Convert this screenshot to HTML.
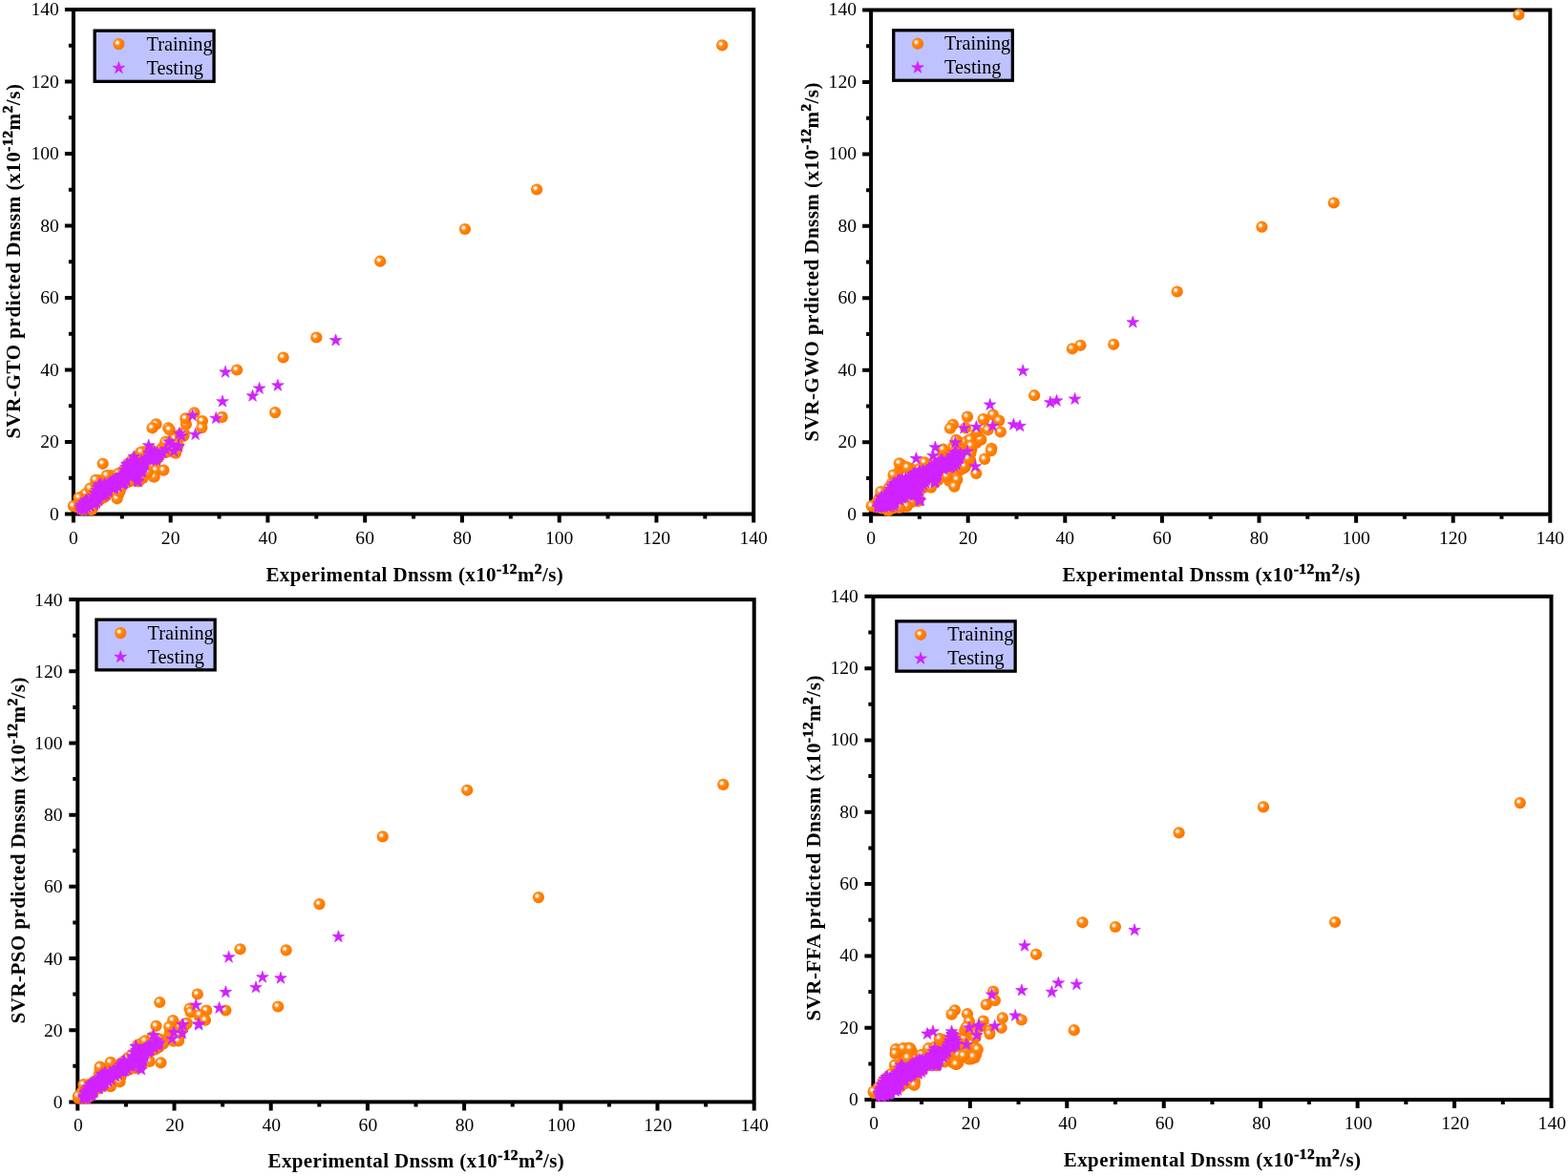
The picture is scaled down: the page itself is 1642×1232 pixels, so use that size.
<!DOCTYPE html>
<html lang="en"><head><meta charset="utf-8"><title>SVR predicted vs experimental Dnssm</title>
<style>html,body{margin:0;padding:0;background:#fff}body{width:1642px;height:1232px;overflow:hidden}svg{display:block;filter:blur(0.3px)}text{font-family:"Liberation Serif",serif;fill:#000}.tk{font-size:19.6px}.tt{font-size:21px;font-weight:bold}.lg{font-size:20.3px}</style></head><body>
<svg width="1642" height="1232" viewBox="0 0 1642 1232">
<defs><radialGradient id="g" cx="0.377" cy="0.38" r="0.68" fx="0.377" fy="0.38"><stop offset="0" stop-color="#fff"/><stop offset="0.10" stop-color="#fff"/><stop offset="0.22" stop-color="#ffc792"/><stop offset="0.34" stop-color="#ff8c1a"/><stop offset="0.6" stop-color="#ff8000"/><stop offset="1" stop-color="#fa7000"/></radialGradient><path id="s" d="M0.00,-6.60L1.50,-2.06L6.28,-2.04L2.43,0.79L3.88,5.34L0.00,2.55L-3.88,5.34L-2.43,0.79L-6.28,-2.04L-1.50,-2.06Z" fill="#d022ff" stroke="#d022ff" stroke-width="0.7" stroke-linejoin="round"/></defs>
<rect width="1642" height="1232" fill="#fff"/>
<g>
<rect x="76.90" y="10.00" width="712.30" height="528.50" fill="none" stroke="#000" stroke-width="4.00"/>
<path d="M76.90,540.00v7.50M75.40,538.50h-7.50M127.78,540.00v3.50M75.40,500.75h-3.50M178.66,540.00v7.50M75.40,463.00h-7.50M229.54,540.00v3.50M75.40,425.25h-3.50M280.41,540.00v7.50M75.40,387.50h-7.50M331.29,540.00v3.50M75.40,349.75h-3.50M382.17,540.00v7.50M75.40,312.00h-7.50M433.05,540.00v3.50M75.40,274.25h-3.50M483.93,540.00v7.50M75.40,236.50h-7.50M534.81,540.00v3.50M75.40,198.75h-3.50M585.69,540.00v7.50M75.40,161.00h-7.50M636.56,540.00v3.50M75.40,123.25h-3.50M687.44,540.00v7.50M75.40,85.50h-7.50M738.32,540.00v3.50M75.40,47.75h-3.50M789.20,540.00v7.50M75.40,10.00h-7.50" stroke="#000" stroke-width="4.00" fill="none"/>
<text class="tk" x="76.90" y="569.70" text-anchor="middle">0</text>
<text class="tk" x="61.80" y="544.70" text-anchor="end">0</text>
<text class="tk" x="178.66" y="569.70" text-anchor="middle">20</text>
<text class="tk" x="61.80" y="469.20" text-anchor="end">20</text>
<text class="tk" x="280.41" y="569.70" text-anchor="middle">40</text>
<text class="tk" x="61.80" y="393.70" text-anchor="end">40</text>
<text class="tk" x="382.17" y="569.70" text-anchor="middle">60</text>
<text class="tk" x="61.80" y="318.20" text-anchor="end">60</text>
<text class="tk" x="483.93" y="569.70" text-anchor="middle">80</text>
<text class="tk" x="61.80" y="242.70" text-anchor="end">80</text>
<text class="tk" x="585.69" y="569.70" text-anchor="middle">100</text>
<text class="tk" x="61.80" y="167.20" text-anchor="end">100</text>
<text class="tk" x="687.44" y="569.70" text-anchor="middle">120</text>
<text class="tk" x="61.80" y="91.70" text-anchor="end">120</text>
<text class="tk" x="789.20" y="569.70" text-anchor="middle">140</text>
<text class="tk" x="61.80" y="16.20" text-anchor="end">140</text>
<text class="tt" x="278.40" y="608.70" textLength="311.40" lengthAdjust="spacing">Experimental Dnssm (x10<tspan dy="-8" style="font-size:15.5px;font-weight:bold;stroke:#000;stroke-width:0.55px">-12</tspan><tspan dy="8">m</tspan><tspan dy="-8" style="font-size:15.5px;font-weight:bold;stroke:#000;stroke-width:0.55px">2</tspan><tspan dy="8">/s)</tspan></text>
<text class="tt" transform="translate(20.90,459.60) rotate(-90)" x="0" y="0" textLength="371.50" lengthAdjust="spacing">SVR-GTO prdicted Dnssm (x10<tspan dy="-8" style="font-size:15.5px;font-weight:bold;stroke:#000;stroke-width:0.55px">-12</tspan><tspan dy="8">m</tspan><tspan dy="-8" style="font-size:15.5px;font-weight:bold;stroke:#000;stroke-width:0.55px">2</tspan><tspan dy="8">/s)</tspan></text>
<g fill="url(#g)"><circle cx="120.3" cy="502.4" r="6.1"/><circle cx="117.6" cy="514.7" r="6.1"/><circle cx="150.4" cy="486.4" r="6.1"/><circle cx="103.9" cy="510.9" r="6.1"/><circle cx="157.8" cy="489.2" r="6.1"/><circle cx="81.7" cy="527.4" r="6.1"/><circle cx="87.1" cy="519.6" r="6.1"/><circle cx="109.7" cy="507.4" r="6.1"/><circle cx="107" cy="508.5" r="6.1"/><circle cx="130.7" cy="498.8" r="6.1"/><circle cx="94.6" cy="523.8" r="6.1"/><circle cx="147.1" cy="482.6" r="6.1"/><circle cx="135.4" cy="495.9" r="6.1"/><circle cx="88.6" cy="531" r="6.1"/><circle cx="116.4" cy="512.4" r="6.1"/><circle cx="166.9" cy="476.6" r="6.1"/><circle cx="144.6" cy="489" r="6.1"/><circle cx="175.6" cy="472.3" r="6.1"/><circle cx="92.1" cy="522.7" r="6.1"/><circle cx="158.7" cy="474.8" r="6.1"/><circle cx="136.1" cy="498.9" r="6.1"/><circle cx="141.1" cy="480.4" r="6.1"/><circle cx="162.2" cy="481.2" r="6.1"/><circle cx="139" cy="490.9" r="6.1"/><circle cx="185.8" cy="467.6" r="6.1"/><circle cx="120.7" cy="499.4" r="6.1"/><circle cx="94.9" cy="528.3" r="6.1"/><circle cx="161.7" cy="484.9" r="6.1"/><circle cx="159.6" cy="480.6" r="6.1"/><circle cx="97.4" cy="511.4" r="6.1"/><circle cx="183.1" cy="463.9" r="6.1"/><circle cx="114.1" cy="509.7" r="6.1"/><circle cx="182.2" cy="469" r="6.1"/><circle cx="119.3" cy="510.7" r="6.1"/><circle cx="154.4" cy="488.4" r="6.1"/><circle cx="142" cy="496.9" r="6.1"/><circle cx="124" cy="510.9" r="6.1"/><circle cx="108.4" cy="520.5" r="6.1"/><circle cx="119.3" cy="504.3" r="6.1"/><circle cx="150.2" cy="474.4" r="6.1"/><circle cx="144.3" cy="479.7" r="6.1"/><circle cx="100.2" cy="518.6" r="6.1"/><circle cx="99.3" cy="512.2" r="6.1"/><circle cx="160.7" cy="498" r="6.1"/><circle cx="101.5" cy="519.6" r="6.1"/><circle cx="119.1" cy="500.3" r="6.1"/><circle cx="153.9" cy="488.8" r="6.1"/><circle cx="183.9" cy="471" r="6.1"/><circle cx="137.7" cy="503.3" r="6.1"/><circle cx="125.8" cy="498" r="6.1"/><circle cx="85.3" cy="527" r="6.1"/><circle cx="144" cy="499.6" r="6.1"/><circle cx="98" cy="511.5" r="6.1"/><circle cx="106" cy="511.9" r="6.1"/><circle cx="163.9" cy="476.2" r="6.1"/><circle cx="107.8" cy="506.8" r="6.1"/><circle cx="154.1" cy="474.3" r="6.1"/><circle cx="143.3" cy="485.5" r="6.1"/><circle cx="91.8" cy="527.3" r="6.1"/><circle cx="136.3" cy="500.4" r="6.1"/><circle cx="110.6" cy="511.6" r="6.1"/><circle cx="116.4" cy="507.4" r="6.1"/><circle cx="150.6" cy="494.5" r="6.1"/><circle cx="154.6" cy="481.4" r="6.1"/><circle cx="139.6" cy="486.9" r="6.1"/><circle cx="128.5" cy="493.7" r="6.1"/><circle cx="152.7" cy="480" r="6.1"/><circle cx="149.4" cy="488.2" r="6.1"/><circle cx="132.7" cy="499.7" r="6.1"/><circle cx="122" cy="514.4" r="6.1"/><circle cx="115.9" cy="498.9" r="6.1"/><circle cx="123.7" cy="506.7" r="6.1"/><circle cx="147.6" cy="474.6" r="6.1"/><circle cx="90.6" cy="531.1" r="6.1"/><circle cx="110.4" cy="517.2" r="6.1"/><circle cx="120.7" cy="515.3" r="6.1"/><circle cx="108.6" cy="516.4" r="6.1"/><circle cx="115" cy="505" r="6.1"/><circle cx="161.7" cy="476.7" r="6.1"/><circle cx="160.2" cy="492.2" r="6.1"/><circle cx="143" cy="492.6" r="6.1"/><circle cx="104.4" cy="516.5" r="6.1"/><circle cx="159.1" cy="494.7" r="6.1"/><circle cx="95.7" cy="515.8" r="6.1"/><circle cx="178.4" cy="465" r="6.1"/><circle cx="126.1" cy="499.5" r="6.1"/><circle cx="148.7" cy="480.2" r="6.1"/><circle cx="104.7" cy="522.9" r="6.1"/><circle cx="126.7" cy="500.8" r="6.1"/><circle cx="95.5" cy="523.1" r="6.1"/><circle cx="178.5" cy="466.8" r="6.1"/><circle cx="134.1" cy="491.1" r="6.1"/><circle cx="184.2" cy="465.2" r="6.1"/><circle cx="103.4" cy="505.7" r="6.1"/><circle cx="128.3" cy="504.8" r="6.1"/><circle cx="151.8" cy="492" r="6.1"/><circle cx="96.8" cy="523.2" r="6.1"/><circle cx="142.9" cy="501.1" r="6.1"/><circle cx="143" cy="488" r="6.1"/><circle cx="141.2" cy="492.8" r="6.1"/><circle cx="112.2" cy="503.9" r="6.1"/><circle cx="159.5" cy="484.4" r="6.1"/><circle cx="159.4" cy="487.6" r="6.1"/><circle cx="150.2" cy="479.9" r="6.1"/><circle cx="83.1" cy="523.9" r="6.1"/><circle cx="85.7" cy="520.6" r="6.1"/><circle cx="90.1" cy="517.1" r="6.1"/><circle cx="95.3" cy="512.9" r="6.1"/><circle cx="101.2" cy="504" r="6.1"/><circle cx="101" cy="503.6" r="6.1"/><circle cx="103.6" cy="503.1" r="6.1"/><circle cx="112.4" cy="498.7" r="6.1"/><circle cx="112.6" cy="498.6" r="6.1"/><circle cx="116.3" cy="498.2" r="6.1"/><circle cx="124.3" cy="495.9" r="6.1"/><circle cx="129.2" cy="493" r="6.1"/><circle cx="134.2" cy="485.6" r="6.1"/><circle cx="138.1" cy="482.5" r="6.1"/><circle cx="142" cy="479.4" r="6.1"/><circle cx="146.7" cy="475" r="6.1"/><circle cx="147.5" cy="474.2" r="6.1"/><circle cx="151.4" cy="473.2" r="6.1"/><circle cx="157.7" cy="470.9" r="6.1"/><circle cx="169.7" cy="469.6" r="6.1"/><circle cx="172.2" cy="466.2" r="6.1"/><circle cx="174.7" cy="463.7" r="6.1"/><circle cx="176.7" cy="462.5" r="6.1"/><circle cx="183.4" cy="458.9" r="6.1"/><circle cx="188.4" cy="455.3" r="6.1"/><circle cx="190.9" cy="454" r="6.1"/><circle cx="191.1" cy="454.7" r="6.1"/><circle cx="190.4" cy="456.2" r="6.1"/><circle cx="186.4" cy="466.3" r="6.1"/><circle cx="186.3" cy="466.6" r="6.1"/><circle cx="184.9" cy="470.5" r="6.1"/><circle cx="183.1" cy="472.7" r="6.1"/><circle cx="181.1" cy="473.3" r="6.1"/><circle cx="173.6" cy="473.9" r="6.1"/><circle cx="166.1" cy="478.6" r="6.1"/><circle cx="163.7" cy="482" r="6.1"/><circle cx="161" cy="499.4" r="6.1"/><circle cx="160.9" cy="499.1" r="6.1"/><circle cx="160.6" cy="499" r="6.1"/><circle cx="149.5" cy="501" r="6.1"/><circle cx="145.3" cy="504.3" r="6.1"/><circle cx="144.4" cy="504.1" r="6.1"/><circle cx="135.1" cy="504.8" r="6.1"/><circle cx="126.4" cy="511.8" r="6.1"/><circle cx="123.7" cy="518.4" r="6.1"/><circle cx="111" cy="519.5" r="6.1"/><circle cx="108.3" cy="521.5" r="6.1"/><circle cx="102.7" cy="525.3" r="6.1"/><circle cx="97.4" cy="531.4" r="6.1"/><circle cx="95.6" cy="533.2" r="6.1"/><circle cx="94.2" cy="533.8" r="6.1"/><circle cx="90" cy="533.8" r="6.1"/><circle cx="85.9" cy="533.9" r="6.1"/><circle cx="80.6" cy="531.3" r="6.1"/><circle cx="756.2" cy="47.4" r="6.1"/><circle cx="562.1" cy="198.5" r="6.1"/><circle cx="486.9" cy="240" r="6.1"/><circle cx="398.1" cy="273.7" r="6.1"/><circle cx="331.3" cy="353.5" r="6.1"/><circle cx="296.6" cy="374.5" r="6.1"/><circle cx="248.1" cy="387.5" r="6.1"/><circle cx="288.1" cy="432.1" r="6.1"/><circle cx="232.6" cy="436.9" r="6.1"/><circle cx="203.4" cy="432.3" r="6.1"/><circle cx="211.9" cy="441.1" r="6.1"/><circle cx="211.3" cy="448.1" r="6.1"/><circle cx="194.9" cy="444.5" r="6.1"/><circle cx="194.3" cy="438.4" r="6.1"/><circle cx="192.4" cy="456.7" r="6.1"/><circle cx="107.7" cy="485.8" r="6.1"/><circle cx="163.5" cy="444.4" r="6.1"/><circle cx="159.5" cy="448.3" r="6.1"/><circle cx="176.2" cy="448.3" r="6.1"/><circle cx="177.7" cy="450.2" r="6.1"/><circle cx="192.8" cy="454.1" r="6.1"/><circle cx="173.3" cy="462.9" r="6.1"/><circle cx="148" cy="473.6" r="6.1"/><circle cx="184" cy="474.6" r="6.1"/><circle cx="111.9" cy="498" r="6.1"/><circle cx="100.2" cy="502.8" r="6.1"/><circle cx="94.4" cy="511.6" r="6.1"/><circle cx="163.5" cy="492.6" r="6.1"/><circle cx="171.3" cy="492.6" r="6.1"/><circle cx="161.6" cy="499.4" r="6.1"/><circle cx="154.8" cy="495" r="6.1"/><circle cx="122.6" cy="522.3" r="6.1"/><circle cx="125.5" cy="515" r="6.1"/><circle cx="76.8" cy="530.1" r="6.1"/><circle cx="96.3" cy="534" r="6.1"/><circle cx="82.7" cy="521.3" r="6.1"/></g>
<use href="#s" x="130.4" y="501.9"/><use href="#s" x="109.7" y="513.2"/><use href="#s" x="151.1" y="483.1"/><use href="#s" x="160.4" y="478.2"/><use href="#s" x="134.6" y="498.7"/><use href="#s" x="150.6" y="486.8"/><use href="#s" x="102.3" y="522.8"/><use href="#s" x="147.2" y="490.6"/><use href="#s" x="129.2" y="497.8"/><use href="#s" x="164.6" y="478.5"/><use href="#s" x="144.3" y="491.7"/><use href="#s" x="136.6" y="492.6"/><use href="#s" x="142.4" y="486.3"/><use href="#s" x="118.5" y="508.7"/><use href="#s" x="98.6" y="521.9"/><use href="#s" x="120.1" y="509.2"/><use href="#s" x="128" y="500.9"/><use href="#s" x="138.2" y="484.7"/><use href="#s" x="88.4" y="526.4"/><use href="#s" x="90.1" y="528.4"/><use href="#s" x="118.9" y="505.9"/><use href="#s" x="148.1" y="488.4"/><use href="#s" x="114.5" y="509.5"/><use href="#s" x="101.8" y="519.5"/><use href="#s" x="103.4" y="515.5"/><use href="#s" x="123.4" y="508.9"/><use href="#s" x="144.1" y="493.8"/><use href="#s" x="161.8" y="473.7"/><use href="#s" x="128.6" y="507"/><use href="#s" x="86.2" y="532"/><use href="#s" x="162" y="477.5"/><use href="#s" x="139.4" y="489.5"/><use href="#s" x="148.9" y="490"/><use href="#s" x="133.6" y="496.8"/><use href="#s" x="102.7" y="521.4"/><use href="#s" x="127.5" y="507"/><use href="#s" x="158.7" y="474.2"/><use href="#s" x="93.3" y="529.6"/><use href="#s" x="143.3" y="500.7"/><use href="#s" x="136.1" y="487.2"/><use href="#s" x="121.7" y="503"/><use href="#s" x="134.2" y="495.5"/><use href="#s" x="155.4" y="480.8"/><use href="#s" x="123.1" y="503.3"/><use href="#s" x="90.9" y="531.3"/><use href="#s" x="107" y="510.9"/><use href="#s" x="97.1" y="524.8"/><use href="#s" x="133.8" y="488.9"/><use href="#s" x="106" y="515.1"/><use href="#s" x="142.2" y="490.6"/><use href="#s" x="137.7" y="498.1"/><use href="#s" x="136.6" y="495"/><use href="#s" x="126.6" y="503.5"/><use href="#s" x="109.2" y="516.4"/><use href="#s" x="96.5" y="525.2"/><use href="#s" x="127.9" y="497.4"/><use href="#s" x="137.7" y="486.8"/><use href="#s" x="108.8" y="508.7"/><use href="#s" x="120" y="511"/><use href="#s" x="112" y="512.7"/><use href="#s" x="131.7" y="492"/><use href="#s" x="115" y="506.8"/><use href="#s" x="156.9" y="478.4"/><use href="#s" x="118.8" y="503.8"/><use href="#s" x="102.9" y="510.7"/><use href="#s" x="121" y="506.6"/><use href="#s" x="143.2" y="496.7"/><use href="#s" x="159.4" y="477.2"/><use href="#s" x="110.4" y="511"/><use href="#s" x="158.3" y="472.2"/><use href="#s" x="116.1" y="510.3"/><use href="#s" x="99.2" y="525.7"/><use href="#s" x="113.3" y="509"/><use href="#s" x="100.7" y="526.4"/><use href="#s" x="141.5" y="494.1"/><use href="#s" x="113.9" y="513.7"/><use href="#s" x="143.5" y="484.5"/><use href="#s" x="131.6" y="503"/><use href="#s" x="105.7" y="514.2"/><use href="#s" x="139.5" y="493.8"/><use href="#s" x="86.3" y="529.2"/><use href="#s" x="100" y="525.2"/><use href="#s" x="89.3" y="528.1"/><use href="#s" x="110.2" y="517.1"/><use href="#s" x="149.3" y="485.2"/><use href="#s" x="125.7" y="505.1"/><use href="#s" x="91.5" y="525.3"/><use href="#s" x="159" y="479.7"/><use href="#s" x="148.2" y="493.4"/><use href="#s" x="105" y="519.5"/><use href="#s" x="104.1" y="514.8"/><use href="#s" x="101.2" y="516.6"/><use href="#s" x="143.7" y="485.9"/><use href="#s" x="140.2" y="491.5"/><use href="#s" x="166.5" y="476.3"/><use href="#s" x="156.3" y="475"/><use href="#s" x="131" y="500.9"/><use href="#s" x="138.7" y="491.2"/><use href="#s" x="129.8" y="505.9"/><use href="#s" x="115" y="509.1"/><use href="#s" x="147.4" y="494.5"/><use href="#s" x="83.8" y="531"/><use href="#s" x="85.3" y="529.2"/><use href="#s" x="87.9" y="526.6"/><use href="#s" x="90.5" y="524"/><use href="#s" x="90" y="524.4"/><use href="#s" x="98.5" y="519.5"/><use href="#s" x="99.9" y="516.6"/><use href="#s" x="101.3" y="513.6"/><use href="#s" x="102.6" y="510.7"/><use href="#s" x="104" y="507.8"/><use href="#s" x="103.9" y="508.2"/><use href="#s" x="105.8" y="507.6"/><use href="#s" x="109.7" y="507.1"/><use href="#s" x="115.7" y="504.9"/><use href="#s" x="118.6" y="502.9"/><use href="#s" x="121.4" y="501.4"/><use href="#s" x="126.2" y="498.4"/><use href="#s" x="130.8" y="492.7"/><use href="#s" x="132.1" y="489.5"/><use href="#s" x="133.4" y="486.2"/><use href="#s" x="132.8" y="486.8"/><use href="#s" x="135.8" y="485.2"/><use href="#s" x="138.7" y="483.5"/><use href="#s" x="148.2" y="483.1"/><use href="#s" x="151.1" y="481.6"/><use href="#s" x="156.2" y="474.7"/><use href="#s" x="158.9" y="472.1"/><use href="#s" x="164" y="474.1"/><use href="#s" x="167.7" y="476.3"/><use href="#s" x="166.2" y="478.6"/><use href="#s" x="163.8" y="482"/><use href="#s" x="164" y="481.9"/><use href="#s" x="160.6" y="482.2"/><use href="#s" x="151.6" y="487.2"/><use href="#s" x="150.3" y="490.2"/><use href="#s" x="149" y="493.1"/><use href="#s" x="147.6" y="494.7"/><use href="#s" x="144.2" y="503.4"/><use href="#s" x="132.4" y="503.4"/><use href="#s" x="129.9" y="506.3"/><use href="#s" x="128.7" y="507"/><use href="#s" x="122.9" y="509.9"/><use href="#s" x="118.9" y="511.9"/><use href="#s" x="113.3" y="515.4"/><use href="#s" x="110.8" y="517.8"/><use href="#s" x="108.3" y="519.6"/><use href="#s" x="103.1" y="523.8"/><use href="#s" x="100.7" y="526.8"/><use href="#s" x="98.6" y="528.4"/><use href="#s" x="94.6" y="530.4"/><use href="#s" x="88.8" y="533.2"/><use href="#s" x="87.7" y="533.9"/><use href="#s" x="84.5" y="534"/><use href="#s" x="177.2" y="462.9"/><use href="#s" x="186.9" y="467.7"/><use href="#s" x="173.3" y="470.7"/><use href="#s" x="180.1" y="465.8"/><use href="#s" x="182.1" y="472.6"/><use href="#s" x="170.4" y="474.6"/><use href="#s" x="351.6" y="356.6"/><use href="#s" x="236" y="389.9"/><use href="#s" x="290.9" y="403.9"/><use href="#s" x="271.6" y="407"/><use href="#s" x="264.5" y="414.9"/><use href="#s" x="233" y="420.7"/><use href="#s" x="226.2" y="438.2"/><use href="#s" x="201.6" y="435.4"/><use href="#s" x="204.6" y="455.2"/><use href="#s" x="190" y="456.7"/><use href="#s" x="187.9" y="454.1"/><use href="#s" x="186.9" y="467.7"/><use href="#s" x="155.7" y="466.8"/><use href="#s" x="140.2" y="478.5"/><use href="#s" x="144.5" y="504.8"/>
<rect x="99.15" y="32.15" width="124.90" height="53.20" fill="#bec3ff" stroke="#000" stroke-width="3.3"/>
<circle cx="124.40" cy="46.10" r="6.1" fill="url(#g)"/>
<use href="#s" x="124.40" y="71.30"/>
<text class="lg" x="153.50" y="52.70">Training</text>
<text class="lg" x="153.50" y="77.50">Testing</text>
</g>
<g>
<rect x="912.10" y="10.50" width="711.20" height="528.20" fill="none" stroke="#000" stroke-width="4.00"/>
<path d="M912.10,540.20v7.50M910.60,538.70h-7.50M962.90,540.20v3.50M910.60,500.97h-3.50M1013.70,540.20v7.50M910.60,463.24h-7.50M1064.50,540.20v3.50M910.60,425.51h-3.50M1115.30,540.20v7.50M910.60,387.79h-7.50M1166.10,540.20v3.50M910.60,350.06h-3.50M1216.90,540.20v7.50M910.60,312.33h-7.50M1267.70,540.20v3.50M910.60,274.60h-3.50M1318.50,540.20v7.50M910.60,236.87h-7.50M1369.30,540.20v3.50M910.60,199.14h-3.50M1420.10,540.20v7.50M910.60,161.41h-7.50M1470.90,540.20v3.50M910.60,123.69h-3.50M1521.70,540.20v7.50M910.60,85.96h-7.50M1572.50,540.20v3.50M910.60,48.23h-3.50M1623.30,540.20v7.50M910.60,10.50h-7.50" stroke="#000" stroke-width="4.00" fill="none"/>
<text class="tk" x="912.10" y="569.90" text-anchor="middle">0</text>
<text class="tk" x="897.00" y="544.60" text-anchor="end">0</text>
<text class="tk" x="1013.70" y="569.90" text-anchor="middle">20</text>
<text class="tk" x="897.00" y="469.14" text-anchor="end">20</text>
<text class="tk" x="1115.30" y="569.90" text-anchor="middle">40</text>
<text class="tk" x="897.00" y="393.69" text-anchor="end">40</text>
<text class="tk" x="1216.90" y="569.90" text-anchor="middle">60</text>
<text class="tk" x="897.00" y="318.23" text-anchor="end">60</text>
<text class="tk" x="1318.50" y="569.90" text-anchor="middle">80</text>
<text class="tk" x="897.00" y="242.77" text-anchor="end">80</text>
<text class="tk" x="1420.10" y="569.90" text-anchor="middle">100</text>
<text class="tk" x="897.00" y="167.31" text-anchor="end">100</text>
<text class="tk" x="1521.70" y="569.90" text-anchor="middle">120</text>
<text class="tk" x="897.00" y="91.86" text-anchor="end">120</text>
<text class="tk" x="1623.30" y="569.90" text-anchor="middle">140</text>
<text class="tk" x="897.00" y="16.40" text-anchor="end">140</text>
<text class="tt" x="1112.40" y="608.70" textLength="312.20" lengthAdjust="spacing">Experimental Dnssm (x10<tspan dy="-8" style="font-size:15.5px;font-weight:bold;stroke:#000;stroke-width:0.55px">-12</tspan><tspan dy="8">m</tspan><tspan dy="-8" style="font-size:15.5px;font-weight:bold;stroke:#000;stroke-width:0.55px">2</tspan><tspan dy="8">/s)</tspan></text>
<text class="tt" transform="translate(856.50,462.50) rotate(-90)" x="0" y="0" textLength="376.00" lengthAdjust="spacing">SVR-GWO prdicted Dnssm (x10<tspan dy="-8" style="font-size:15.5px;font-weight:bold;stroke:#000;stroke-width:0.55px">-12</tspan><tspan dy="8">m</tspan><tspan dy="-8" style="font-size:15.5px;font-weight:bold;stroke:#000;stroke-width:0.55px">2</tspan><tspan dy="8">/s)</tspan></text>
<g fill="url(#g)"><circle cx="928.6" cy="516.8" r="6.1"/><circle cx="1010.2" cy="466.5" r="6.1"/><circle cx="998" cy="485.8" r="6.1"/><circle cx="922" cy="529.7" r="6.1"/><circle cx="987.1" cy="491.8" r="6.1"/><circle cx="978.2" cy="501" r="6.1"/><circle cx="962.1" cy="501.5" r="6.1"/><circle cx="962.2" cy="492.3" r="6.1"/><circle cx="943.8" cy="530.2" r="6.1"/><circle cx="963.8" cy="502.6" r="6.1"/><circle cx="945.3" cy="505.5" r="6.1"/><circle cx="1006" cy="480.1" r="6.1"/><circle cx="943.5" cy="515.5" r="6.1"/><circle cx="952.5" cy="508.4" r="6.1"/><circle cx="959.1" cy="507.9" r="6.1"/><circle cx="943.3" cy="501.9" r="6.1"/><circle cx="956.3" cy="494" r="6.1"/><circle cx="933" cy="519" r="6.1"/><circle cx="937.6" cy="525" r="6.1"/><circle cx="979.1" cy="485.6" r="6.1"/><circle cx="997.4" cy="479.1" r="6.1"/><circle cx="966" cy="508.7" r="6.1"/><circle cx="1005.5" cy="482.3" r="6.1"/><circle cx="1011.2" cy="480.8" r="6.1"/><circle cx="1006.4" cy="471.2" r="6.1"/><circle cx="981.1" cy="491.2" r="6.1"/><circle cx="934.4" cy="512.6" r="6.1"/><circle cx="1019.7" cy="460.1" r="6.1"/><circle cx="1013.5" cy="478.5" r="6.1"/><circle cx="953.5" cy="492.6" r="6.1"/><circle cx="932.3" cy="529.2" r="6.1"/><circle cx="972.3" cy="487.5" r="6.1"/><circle cx="917.7" cy="530.6" r="6.1"/><circle cx="976.5" cy="502.1" r="6.1"/><circle cx="961.7" cy="509.4" r="6.1"/><circle cx="949.4" cy="524.6" r="6.1"/><circle cx="999" cy="498.1" r="6.1"/><circle cx="968.6" cy="490.4" r="6.1"/><circle cx="939.7" cy="517.5" r="6.1"/><circle cx="954.6" cy="505.7" r="6.1"/><circle cx="1010.2" cy="482.4" r="6.1"/><circle cx="943" cy="522.8" r="6.1"/><circle cx="952.9" cy="499.2" r="6.1"/><circle cx="1003.1" cy="470.3" r="6.1"/><circle cx="990.7" cy="486.8" r="6.1"/><circle cx="977.7" cy="488.5" r="6.1"/><circle cx="927.7" cy="522.7" r="6.1"/><circle cx="979.3" cy="497.3" r="6.1"/><circle cx="931.1" cy="524.8" r="6.1"/><circle cx="942.6" cy="503.2" r="6.1"/><circle cx="934.3" cy="525.8" r="6.1"/><circle cx="946.8" cy="507.4" r="6.1"/><circle cx="991.4" cy="478.7" r="6.1"/><circle cx="951.9" cy="510.6" r="6.1"/><circle cx="937.8" cy="526" r="6.1"/><circle cx="995.1" cy="476.5" r="6.1"/><circle cx="921.4" cy="527.7" r="6.1"/><circle cx="967.2" cy="505.9" r="6.1"/><circle cx="997.6" cy="501.7" r="6.1"/><circle cx="946.9" cy="502.1" r="6.1"/><circle cx="980" cy="487.3" r="6.1"/><circle cx="994.1" cy="500.5" r="6.1"/><circle cx="969.4" cy="491.9" r="6.1"/><circle cx="1012.4" cy="478.3" r="6.1"/><circle cx="955.5" cy="509.9" r="6.1"/><circle cx="934.1" cy="523.3" r="6.1"/><circle cx="946.9" cy="525.9" r="6.1"/><circle cx="993.3" cy="497.1" r="6.1"/><circle cx="995.1" cy="489.9" r="6.1"/><circle cx="1014.1" cy="474.4" r="6.1"/><circle cx="940.9" cy="514.4" r="6.1"/><circle cx="932.6" cy="531.8" r="6.1"/><circle cx="967.8" cy="499" r="6.1"/><circle cx="957.1" cy="524.2" r="6.1"/><circle cx="1006.9" cy="470.4" r="6.1"/><circle cx="938.5" cy="518.4" r="6.1"/><circle cx="953" cy="496.9" r="6.1"/><circle cx="953.1" cy="522.7" r="6.1"/><circle cx="973.3" cy="500.1" r="6.1"/><circle cx="993.8" cy="497.6" r="6.1"/><circle cx="969.6" cy="499.8" r="6.1"/><circle cx="987.5" cy="489.6" r="6.1"/><circle cx="942.4" cy="497.8" r="6.1"/><circle cx="988.9" cy="474.6" r="6.1"/><circle cx="928.5" cy="518.1" r="6.1"/><circle cx="1000.7" cy="487.5" r="6.1"/><circle cx="933.3" cy="513.3" r="6.1"/><circle cx="985.3" cy="499.6" r="6.1"/><circle cx="944.8" cy="497.3" r="6.1"/><circle cx="973.3" cy="494.3" r="6.1"/><circle cx="1004.8" cy="478.5" r="6.1"/><circle cx="940.3" cy="508.1" r="6.1"/><circle cx="986.1" cy="480.1" r="6.1"/><circle cx="992.7" cy="490.9" r="6.1"/><circle cx="948.3" cy="504.9" r="6.1"/><circle cx="938.9" cy="528.9" r="6.1"/><circle cx="1004.4" cy="493" r="6.1"/><circle cx="1007.3" cy="491.1" r="6.1"/><circle cx="921.7" cy="521.5" r="6.1"/><circle cx="991.9" cy="482.3" r="6.1"/><circle cx="957.6" cy="504.9" r="6.1"/><circle cx="926.3" cy="529.6" r="6.1"/><circle cx="1011.2" cy="471.2" r="6.1"/><circle cx="1014.6" cy="471" r="6.1"/><circle cx="948.7" cy="497.8" r="6.1"/><circle cx="957.5" cy="497.3" r="6.1"/><circle cx="952.8" cy="515.9" r="6.1"/><circle cx="949.1" cy="519.5" r="6.1"/><circle cx="975" cy="501.9" r="6.1"/><circle cx="949.3" cy="516" r="6.1"/><circle cx="984.6" cy="484.8" r="6.1"/><circle cx="1015" cy="461" r="6.1"/><circle cx="959.5" cy="509.9" r="6.1"/><circle cx="945.8" cy="518.9" r="6.1"/><circle cx="999" cy="505.7" r="6.1"/><circle cx="1000.3" cy="500" r="6.1"/><circle cx="964.7" cy="494.1" r="6.1"/><circle cx="964.2" cy="492.2" r="6.1"/><circle cx="938.3" cy="503.4" r="6.1"/><circle cx="970.6" cy="506.6" r="6.1"/><circle cx="959.6" cy="518" r="6.1"/><circle cx="999.1" cy="493.2" r="6.1"/><circle cx="1016.5" cy="464.2" r="6.1"/><circle cx="1008.8" cy="486.1" r="6.1"/><circle cx="987.3" cy="495.1" r="6.1"/><circle cx="1001.6" cy="485.9" r="6.1"/><circle cx="944.3" cy="513.1" r="6.1"/><circle cx="973.7" cy="495.6" r="6.1"/><circle cx="1015.6" cy="474.6" r="6.1"/><circle cx="939.8" cy="509.6" r="6.1"/><circle cx="943.2" cy="507.9" r="6.1"/><circle cx="1001.9" cy="476.9" r="6.1"/><circle cx="960.1" cy="521.5" r="6.1"/><circle cx="983.7" cy="490.8" r="6.1"/><circle cx="998.8" cy="474.6" r="6.1"/><circle cx="981.5" cy="496.8" r="6.1"/><circle cx="938" cy="513.3" r="6.1"/><circle cx="926.3" cy="527.5" r="6.1"/><circle cx="1006.9" cy="466.9" r="6.1"/><circle cx="991" cy="485.5" r="6.1"/><circle cx="999.3" cy="467" r="6.1"/><circle cx="920.9" cy="525.7" r="6.1"/><circle cx="939.9" cy="499.1" r="6.1"/><circle cx="997.8" cy="481.4" r="6.1"/><circle cx="1005.3" cy="466.9" r="6.1"/><circle cx="966.5" cy="495.8" r="6.1"/><circle cx="957.9" cy="500.8" r="6.1"/><circle cx="942.4" cy="525.2" r="6.1"/><circle cx="998" cy="477.2" r="6.1"/><circle cx="960.1" cy="516.6" r="6.1"/><circle cx="1003.8" cy="488.5" r="6.1"/><circle cx="935.3" cy="508.4" r="6.1"/><circle cx="958.8" cy="513.5" r="6.1"/><circle cx="1014.6" cy="463.2" r="6.1"/><circle cx="955.1" cy="521.4" r="6.1"/><circle cx="916.4" cy="528.5" r="6.1"/><circle cx="919.4" cy="524" r="6.1"/><circle cx="922.3" cy="519.1" r="6.1"/><circle cx="924.8" cy="516.7" r="6.1"/><circle cx="930.9" cy="510.8" r="6.1"/><circle cx="933.8" cy="506.5" r="6.1"/><circle cx="936.7" cy="499.6" r="6.1"/><circle cx="937.4" cy="498.8" r="6.1"/><circle cx="942.5" cy="491.2" r="6.1"/><circle cx="943.5" cy="486.9" r="6.1"/><circle cx="947.8" cy="489.1" r="6.1"/><circle cx="953.6" cy="491.1" r="6.1"/><circle cx="963.2" cy="490.9" r="6.1"/><circle cx="968" cy="489" r="6.1"/><circle cx="973.1" cy="487.2" r="6.1"/><circle cx="979.7" cy="483.6" r="6.1"/><circle cx="983.1" cy="480.7" r="6.1"/><circle cx="987.4" cy="474.9" r="6.1"/><circle cx="998.4" cy="468.6" r="6.1"/><circle cx="1000.8" cy="463.2" r="6.1"/><circle cx="1002" cy="461.8" r="6.1"/><circle cx="1001.5" cy="462" r="6.1"/><circle cx="1011.9" cy="462.5" r="6.1"/><circle cx="1015.8" cy="460.5" r="6.1"/><circle cx="1019.3" cy="459.7" r="6.1"/><circle cx="1023" cy="459.6" r="6.1"/><circle cx="1026.4" cy="459.9" r="6.1"/><circle cx="1022.4" cy="464" r="6.1"/><circle cx="1017.3" cy="471.1" r="6.1"/><circle cx="1016.4" cy="475" r="6.1"/><circle cx="1016.3" cy="482.4" r="6.1"/><circle cx="1014.1" cy="484.4" r="6.1"/><circle cx="1010.5" cy="489.4" r="6.1"/><circle cx="1008.5" cy="490.7" r="6.1"/><circle cx="1001.6" cy="500.5" r="6.1"/><circle cx="1000.7" cy="505" r="6.1"/><circle cx="999.2" cy="508.7" r="6.1"/><circle cx="994" cy="503.6" r="6.1"/><circle cx="982.4" cy="503" r="6.1"/><circle cx="979" cy="505.4" r="6.1"/><circle cx="967.4" cy="510.8" r="6.1"/><circle cx="961.7" cy="521.4" r="6.1"/><circle cx="961.4" cy="525" r="6.1"/><circle cx="961.6" cy="524.5" r="6.1"/><circle cx="955.1" cy="525.8" r="6.1"/><circle cx="949.2" cy="530.3" r="6.1"/><circle cx="949.8" cy="530.1" r="6.1"/><circle cx="945.4" cy="530.6" r="6.1"/><circle cx="940.2" cy="531.4" r="6.1"/><circle cx="935.3" cy="532.4" r="6.1"/><circle cx="930.5" cy="533.4" r="6.1"/><circle cx="928" cy="533.4" r="6.1"/><circle cx="923.1" cy="532.4" r="6.1"/><circle cx="918.2" cy="531.4" r="6.1"/><circle cx="917.2" cy="530.9" r="6.1"/><circle cx="1590.4" cy="15.3" r="6.1"/><circle cx="1396.7" cy="212.5" r="6.1"/><circle cx="1321.4" cy="237.7" r="6.1"/><circle cx="1232.7" cy="305.5" r="6.1"/><circle cx="1166.2" cy="360.8" r="6.1"/><circle cx="1131.5" cy="361.8" r="6.1"/><circle cx="1122.9" cy="365.3" r="6.1"/><circle cx="1083.1" cy="414.2" r="6.1"/><circle cx="1039.9" cy="434.5" r="6.1"/><circle cx="1030.4" cy="439.6" r="6.1"/><circle cx="1046.2" cy="440.6" r="6.1"/><circle cx="1047.8" cy="452.5" r="6.1"/><circle cx="1034.6" cy="450.3" r="6.1"/><circle cx="1027.3" cy="460.7" r="6.1"/><circle cx="1038.3" cy="469.8" r="6.1"/><circle cx="1022.4" cy="454" r="6.1"/><circle cx="1013" cy="436.6" r="6.1"/><circle cx="997.9" cy="444.8" r="6.1"/><circle cx="995" cy="448.7" r="6.1"/><circle cx="1029.6" cy="439" r="6.1"/><circle cx="1026.7" cy="460" r="6.1"/><circle cx="1016" cy="460.4" r="6.1"/><circle cx="1023.7" cy="452.2" r="6.1"/><circle cx="1011" cy="448.3" r="6.1"/><circle cx="1001.3" cy="460.9" r="6.1"/><circle cx="1037.9" cy="472.1" r="6.1"/><circle cx="1031.1" cy="480.9" r="6.1"/><circle cx="1022.3" cy="496" r="6.1"/><circle cx="1010.1" cy="488.2" r="6.1"/><circle cx="1002.3" cy="502.3" r="6.1"/><circle cx="999.4" cy="509.6" r="6.1"/><circle cx="991.6" cy="498.9" r="6.1"/><circle cx="975" cy="510.6" r="6.1"/><circle cx="941.9" cy="485.3" r="6.1"/><circle cx="950.2" cy="489.7" r="6.1"/><circle cx="935.6" cy="497.5" r="6.1"/><circle cx="912.7" cy="530.1" r="6.1"/><circle cx="949.7" cy="530.1" r="6.1"/><circle cx="941.9" cy="532" r="6.1"/><circle cx="930.2" cy="535" r="6.1"/><circle cx="922.4" cy="515" r="6.1"/><circle cx="1014" cy="480.4" r="6.1"/><circle cx="1016.9" cy="466.8" r="6.1"/><circle cx="987.7" cy="470.7" r="6.1"/><circle cx="968.2" cy="484.3" r="6.1"/></g>
<use href="#s" x="949.4" y="518.4"/><use href="#s" x="995" y="482.1"/><use href="#s" x="923" y="524.9"/><use href="#s" x="1003.4" y="478.3"/><use href="#s" x="937.3" y="525.2"/><use href="#s" x="928.9" y="530.4"/><use href="#s" x="956.1" y="503.6"/><use href="#s" x="976.7" y="497.1"/><use href="#s" x="922.2" y="529.6"/><use href="#s" x="946.1" y="512.3"/><use href="#s" x="933" y="528"/><use href="#s" x="951.8" y="514.7"/><use href="#s" x="935" y="509.8"/><use href="#s" x="966.9" y="501.9"/><use href="#s" x="1002.8" y="481.1"/><use href="#s" x="962.7" y="496.6"/><use href="#s" x="963.8" y="500.6"/><use href="#s" x="943.9" y="520.3"/><use href="#s" x="998.5" y="487.5"/><use href="#s" x="962.2" y="507.7"/><use href="#s" x="968.7" y="505.1"/><use href="#s" x="999.2" y="477.7"/><use href="#s" x="988" y="485.4"/><use href="#s" x="970.2" y="497.9"/><use href="#s" x="949.1" y="512"/><use href="#s" x="930.7" y="525.1"/><use href="#s" x="939.1" y="519.4"/><use href="#s" x="960.6" y="512.9"/><use href="#s" x="946" y="504.8"/><use href="#s" x="925" y="527.7"/><use href="#s" x="978.4" y="494"/><use href="#s" x="982.6" y="487.1"/><use href="#s" x="925.1" y="523.2"/><use href="#s" x="929.6" y="523.3"/><use href="#s" x="961.8" y="512.1"/><use href="#s" x="1000.6" y="485.9"/><use href="#s" x="984.9" y="486.2"/><use href="#s" x="950.5" y="509"/><use href="#s" x="957.1" y="506.9"/><use href="#s" x="926" y="525.4"/><use href="#s" x="992.1" y="483.8"/><use href="#s" x="942.1" y="521.6"/><use href="#s" x="963.3" y="502.1"/><use href="#s" x="956.8" y="517.8"/><use href="#s" x="938.5" y="516.7"/><use href="#s" x="948.5" y="502.2"/><use href="#s" x="955" y="508.3"/><use href="#s" x="951.8" y="503.7"/><use href="#s" x="934.1" y="521.8"/><use href="#s" x="957.1" y="500.4"/><use href="#s" x="970.3" y="495.2"/><use href="#s" x="956.6" y="497.3"/><use href="#s" x="967.1" y="494.3"/><use href="#s" x="989.2" y="488.8"/><use href="#s" x="979.7" y="490.6"/><use href="#s" x="948.6" y="514.2"/><use href="#s" x="943" y="503.6"/><use href="#s" x="936.8" y="527.2"/><use href="#s" x="945.2" y="507.9"/><use href="#s" x="935.7" y="522.8"/><use href="#s" x="943.8" y="519.9"/><use href="#s" x="953.7" y="517.3"/><use href="#s" x="1001.1" y="481.1"/><use href="#s" x="943.1" y="507.8"/><use href="#s" x="978.3" y="499.3"/><use href="#s" x="942.5" y="505.6"/><use href="#s" x="938.5" y="511.8"/><use href="#s" x="990.7" y="488.1"/><use href="#s" x="940.1" y="517.2"/><use href="#s" x="951.6" y="504.6"/><use href="#s" x="953" y="512.9"/><use href="#s" x="935.3" y="517.8"/><use href="#s" x="952.5" y="508.2"/><use href="#s" x="921.8" y="526.2"/><use href="#s" x="945.9" y="520"/><use href="#s" x="972.4" y="497.7"/><use href="#s" x="976.6" y="494.8"/><use href="#s" x="981.2" y="494.9"/><use href="#s" x="961.1" y="505.3"/><use href="#s" x="935.4" y="516.7"/><use href="#s" x="974.7" y="492.9"/><use href="#s" x="948.8" y="515"/><use href="#s" x="958.3" y="518.8"/><use href="#s" x="936.8" y="509.1"/><use href="#s" x="987.2" y="483"/><use href="#s" x="941" y="523.5"/><use href="#s" x="999.1" y="483.8"/><use href="#s" x="997.1" y="478.3"/><use href="#s" x="980.6" y="497"/><use href="#s" x="927.6" y="529.6"/><use href="#s" x="948.9" y="506.2"/><use href="#s" x="934.5" y="515.7"/><use href="#s" x="941.6" y="515.4"/><use href="#s" x="953.8" y="499.7"/><use href="#s" x="989.7" y="484.9"/><use href="#s" x="938.7" y="514.5"/><use href="#s" x="966.3" y="502"/><use href="#s" x="982.8" y="493.3"/><use href="#s" x="979.7" y="499.8"/><use href="#s" x="970.3" y="499.5"/><use href="#s" x="964.3" y="505.3"/><use href="#s" x="948.1" y="514.1"/><use href="#s" x="986.4" y="482.5"/><use href="#s" x="982.7" y="490.3"/><use href="#s" x="951.2" y="511.3"/><use href="#s" x="923.4" y="525.8"/><use href="#s" x="958.4" y="503.1"/><use href="#s" x="998.2" y="479.3"/><use href="#s" x="941.2" y="511.2"/><use href="#s" x="957.4" y="508.7"/><use href="#s" x="959" y="502"/><use href="#s" x="956.2" y="515.6"/><use href="#s" x="957.9" y="496.7"/><use href="#s" x="960.9" y="503"/><use href="#s" x="976.2" y="489.8"/><use href="#s" x="947.9" y="503.3"/><use href="#s" x="964.1" y="498.7"/><use href="#s" x="939.4" y="514.5"/><use href="#s" x="976.4" y="500.8"/><use href="#s" x="944.8" y="513.2"/><use href="#s" x="971.1" y="499.2"/><use href="#s" x="997.2" y="483.8"/><use href="#s" x="931.6" y="520.4"/><use href="#s" x="986.6" y="489.6"/><use href="#s" x="960.4" y="496.7"/><use href="#s" x="980" y="491.4"/><use href="#s" x="959.7" y="517.4"/><use href="#s" x="961.4" y="512.3"/><use href="#s" x="953.8" y="504.4"/><use href="#s" x="1001.5" y="475"/><use href="#s" x="970.3" y="494.2"/><use href="#s" x="970.1" y="503.4"/><use href="#s" x="940.1" y="508.2"/><use href="#s" x="930.9" y="518.3"/><use href="#s" x="995.5" y="487.3"/><use href="#s" x="930.2" y="530.5"/><use href="#s" x="970.9" y="495.5"/><use href="#s" x="978.7" y="488"/><use href="#s" x="979.6" y="491.2"/><use href="#s" x="989.1" y="486.8"/><use href="#s" x="936.1" y="520.7"/><use href="#s" x="926.2" y="521.6"/><use href="#s" x="984.6" y="485.1"/><use href="#s" x="958.5" y="514.8"/><use href="#s" x="968.2" y="497.4"/><use href="#s" x="1004.2" y="478.3"/><use href="#s" x="953.1" y="509.9"/><use href="#s" x="945.9" y="514.9"/><use href="#s" x="956.8" y="512.1"/><use href="#s" x="992.4" y="486.1"/><use href="#s" x="933.3" y="513"/><use href="#s" x="938.5" y="520"/><use href="#s" x="920.4" y="529.2"/><use href="#s" x="928.4" y="518.2"/><use href="#s" x="963.5" y="494.4"/><use href="#s" x="996.1" y="489"/><use href="#s" x="975.4" y="501.7"/><use href="#s" x="920" y="531.2"/><use href="#s" x="923.6" y="530.4"/><use href="#s" x="975.5" y="493.5"/><use href="#s" x="965.3" y="506.1"/><use href="#s" x="924.4" y="522.6"/><use href="#s" x="956.8" y="512.6"/><use href="#s" x="931.2" y="524.2"/><use href="#s" x="919.4" y="531.2"/><use href="#s" x="920.6" y="527.8"/><use href="#s" x="921.9" y="524.4"/><use href="#s" x="923.1" y="521"/><use href="#s" x="922.9" y="521.2"/><use href="#s" x="926.4" y="519.3"/><use href="#s" x="930.8" y="515.2"/><use href="#s" x="932.5" y="512.5"/><use href="#s" x="934.2" y="509.8"/><use href="#s" x="935.9" y="507.1"/><use href="#s" x="937.1" y="506.1"/><use href="#s" x="940.5" y="503.6"/><use href="#s" x="941.7" y="503"/><use href="#s" x="944.9" y="502.4"/><use href="#s" x="948.2" y="501.7"/><use href="#s" x="953.7" y="499"/><use href="#s" x="956.6" y="496.6"/><use href="#s" x="958.4" y="495.6"/><use href="#s" x="962.3" y="494.1"/><use href="#s" x="966.2" y="493.1"/><use href="#s" x="972.7" y="490.8"/><use href="#s" x="975.6" y="488.9"/><use href="#s" x="979" y="486.6"/><use href="#s" x="982.4" y="484.2"/><use href="#s" x="985.5" y="481.8"/><use href="#s" x="996" y="479.5"/><use href="#s" x="997.9" y="476.9"/><use href="#s" x="999.9" y="474.3"/><use href="#s" x="1000.3" y="474.1"/><use href="#s" x="1005.8" y="475.3"/><use href="#s" x="1005.1" y="476.9"/><use href="#s" x="1004.8" y="480.2"/><use href="#s" x="1004.6" y="480.7"/><use href="#s" x="1003" y="483.3"/><use href="#s" x="1001.4" y="485.9"/><use href="#s" x="1001" y="486.3"/><use href="#s" x="998.4" y="487.9"/><use href="#s" x="995.8" y="489.6"/><use href="#s" x="993.9" y="490.1"/><use href="#s" x="988.1" y="491.9"/><use href="#s" x="982" y="497"/><use href="#s" x="980.6" y="499.9"/><use href="#s" x="979" y="504"/><use href="#s" x="979.3" y="504.8"/><use href="#s" x="968.8" y="505.5"/><use href="#s" x="966.8" y="507.9"/><use href="#s" x="964.3" y="510.6"/><use href="#s" x="961.5" y="519.7"/><use href="#s" x="962.4" y="523.1"/><use href="#s" x="963.3" y="524.6"/><use href="#s" x="957.1" y="519.2"/><use href="#s" x="947.4" y="520.4"/><use href="#s" x="944.8" y="522"/><use href="#s" x="941.9" y="523.5"/><use href="#s" x="937.6" y="526.9"/><use href="#s" x="935.7" y="529.4"/><use href="#s" x="935.8" y="529.3"/><use href="#s" x="932.9" y="530.3"/><use href="#s" x="930.3" y="530.7"/><use href="#s" x="925.9" y="531.2"/><use href="#s" x="922.7" y="531.4"/><use href="#s" x="919.5" y="531.4"/><use href="#s" x="1186.3" y="337.7"/><use href="#s" x="1071.2" y="388.5"/><use href="#s" x="1125.6" y="418.1"/><use href="#s" x="1106.5" y="419.9"/><use href="#s" x="1099.8" y="421.7"/><use href="#s" x="1036.7" y="424.1"/><use href="#s" x="1061.4" y="444.8"/><use href="#s" x="1068.1" y="446.4"/><use href="#s" x="1039.5" y="446.3"/><use href="#s" x="1022.4" y="447.3"/><use href="#s" x="1009.6" y="448.7"/><use href="#s" x="1000.4" y="463.8"/><use href="#s" x="979.4" y="468.7"/><use href="#s" x="1013" y="473.1"/><use href="#s" x="1021.3" y="488.7"/><use href="#s" x="959.4" y="480.4"/><use href="#s" x="977" y="477.5"/><use href="#s" x="963.8" y="524.3"/><use href="#s" x="978.9" y="505.7"/>
<rect x="935.75" y="31.75" width="124.60" height="52.50" fill="#bec3ff" stroke="#000" stroke-width="3.3"/>
<circle cx="961.00" cy="45.70" r="6.1" fill="url(#g)"/>
<use href="#s" x="961.00" y="70.90"/>
<text class="lg" x="989.10" y="52.30">Training</text>
<text class="lg" x="989.10" y="77.10">Testing</text>
</g>
<g>
<rect x="81.30" y="628.10" width="708.40" height="526.30" fill="none" stroke="#000" stroke-width="4.00"/>
<path d="M81.30,1155.90v7.50M79.80,1154.40h-7.50M131.90,1155.90v3.50M79.80,1116.81h-3.50M182.50,1155.90v7.50M79.80,1079.21h-7.50M233.10,1155.90v3.50M79.80,1041.62h-3.50M283.70,1155.90v7.50M79.80,1004.03h-7.50M334.30,1155.90v3.50M79.80,966.44h-3.50M384.90,1155.90v7.50M79.80,928.84h-7.50M435.50,1155.90v3.50M79.80,891.25h-3.50M486.10,1155.90v7.50M79.80,853.66h-7.50M536.70,1155.90v3.50M79.80,816.06h-3.50M587.30,1155.90v7.50M79.80,778.47h-7.50M637.90,1155.90v3.50M79.80,740.88h-3.50M688.50,1155.90v7.50M79.80,703.29h-7.50M739.10,1155.90v3.50M79.80,665.69h-3.50M789.70,1155.90v7.50M79.80,628.10h-7.50" stroke="#000" stroke-width="4.00" fill="none"/>
<text class="tk" x="81.80" y="1185.00" text-anchor="middle">0</text>
<text class="tk" x="65.50" y="1160.90" text-anchor="end">0</text>
<text class="tk" x="183.00" y="1185.00" text-anchor="middle">20</text>
<text class="tk" x="65.50" y="1085.71" text-anchor="end">20</text>
<text class="tk" x="284.20" y="1185.00" text-anchor="middle">40</text>
<text class="tk" x="65.50" y="1010.53" text-anchor="end">40</text>
<text class="tk" x="385.40" y="1185.00" text-anchor="middle">60</text>
<text class="tk" x="65.50" y="935.34" text-anchor="end">60</text>
<text class="tk" x="486.60" y="1185.00" text-anchor="middle">80</text>
<text class="tk" x="65.50" y="860.16" text-anchor="end">80</text>
<text class="tk" x="587.80" y="1185.00" text-anchor="middle">100</text>
<text class="tk" x="65.50" y="784.97" text-anchor="end">100</text>
<text class="tk" x="689.00" y="1185.00" text-anchor="middle">120</text>
<text class="tk" x="65.50" y="709.79" text-anchor="end">120</text>
<text class="tk" x="790.20" y="1185.00" text-anchor="middle">140</text>
<text class="tk" x="65.50" y="634.60" text-anchor="end">140</text>
<text class="tt" x="280.50" y="1223.40" textLength="310.20" lengthAdjust="spacing">Experimental Dnssm (x10<tspan dy="-8" style="font-size:15.5px;font-weight:bold;stroke:#000;stroke-width:0.55px">-12</tspan><tspan dy="8">m</tspan><tspan dy="-8" style="font-size:15.5px;font-weight:bold;stroke:#000;stroke-width:0.55px">2</tspan><tspan dy="8">/s)</tspan></text>
<text class="tt" transform="translate(25.60,1072.30) rotate(-90)" x="0" y="0" textLength="362.80" lengthAdjust="spacing">SVR-PSO prdicted Dnssm (x10<tspan dy="-8" style="font-size:15.5px;font-weight:bold;stroke:#000;stroke-width:0.55px">-12</tspan><tspan dy="8">m</tspan><tspan dy="-8" style="font-size:15.5px;font-weight:bold;stroke:#000;stroke-width:0.55px">2</tspan><tspan dy="8">/s)</tspan></text>
<g fill="url(#g)"><circle cx="96.7" cy="1137.9" r="6.1"/><circle cx="192.6" cy="1074.8" r="6.1"/><circle cx="185.6" cy="1077.4" r="6.1"/><circle cx="156.1" cy="1094" r="6.1"/><circle cx="95.1" cy="1136" r="6.1"/><circle cx="171.9" cy="1091.1" r="6.1"/><circle cx="168.2" cy="1093.7" r="6.1"/><circle cx="105.1" cy="1122.6" r="6.1"/><circle cx="117.5" cy="1116.2" r="6.1"/><circle cx="105.3" cy="1138.2" r="6.1"/><circle cx="164.4" cy="1090.9" r="6.1"/><circle cx="140.4" cy="1107.2" r="6.1"/><circle cx="107.6" cy="1129" r="6.1"/><circle cx="93.9" cy="1140.2" r="6.1"/><circle cx="181.4" cy="1079" r="6.1"/><circle cx="159.4" cy="1098.9" r="6.1"/><circle cx="112.6" cy="1123.7" r="6.1"/><circle cx="119.2" cy="1119.7" r="6.1"/><circle cx="134.4" cy="1115.3" r="6.1"/><circle cx="182.2" cy="1080.9" r="6.1"/><circle cx="133.1" cy="1120.7" r="6.1"/><circle cx="114.5" cy="1130.1" r="6.1"/><circle cx="178.4" cy="1081.6" r="6.1"/><circle cx="105.8" cy="1136.1" r="6.1"/><circle cx="102.6" cy="1131.6" r="6.1"/><circle cx="180.1" cy="1084.8" r="6.1"/><circle cx="143.9" cy="1099.7" r="6.1"/><circle cx="115.3" cy="1129.1" r="6.1"/><circle cx="135.9" cy="1110.2" r="6.1"/><circle cx="155.8" cy="1099.9" r="6.1"/><circle cx="110.9" cy="1122.2" r="6.1"/><circle cx="96.1" cy="1146" r="6.1"/><circle cx="125.2" cy="1127.9" r="6.1"/><circle cx="85.9" cy="1149.4" r="6.1"/><circle cx="180.2" cy="1088" r="6.1"/><circle cx="157.4" cy="1099.1" r="6.1"/><circle cx="162.1" cy="1093.3" r="6.1"/><circle cx="156.5" cy="1096.4" r="6.1"/><circle cx="145.1" cy="1094.3" r="6.1"/><circle cx="149.5" cy="1104.2" r="6.1"/><circle cx="140.8" cy="1110.8" r="6.1"/><circle cx="122.6" cy="1126.1" r="6.1"/><circle cx="104.6" cy="1128.9" r="6.1"/><circle cx="106.3" cy="1132.7" r="6.1"/><circle cx="121.8" cy="1117.6" r="6.1"/><circle cx="95.7" cy="1142.9" r="6.1"/><circle cx="108.4" cy="1131.9" r="6.1"/><circle cx="147.6" cy="1106.8" r="6.1"/><circle cx="91.8" cy="1138.7" r="6.1"/><circle cx="145.2" cy="1118.2" r="6.1"/><circle cx="109.7" cy="1124.9" r="6.1"/><circle cx="154.4" cy="1097.5" r="6.1"/><circle cx="116.6" cy="1120.6" r="6.1"/><circle cx="142.6" cy="1118.3" r="6.1"/><circle cx="106.9" cy="1120.1" r="6.1"/><circle cx="187.7" cy="1083.7" r="6.1"/><circle cx="117.1" cy="1125.5" r="6.1"/><circle cx="126.2" cy="1123.8" r="6.1"/><circle cx="150.9" cy="1106.1" r="6.1"/><circle cx="117.3" cy="1131.5" r="6.1"/><circle cx="184.8" cy="1087.7" r="6.1"/><circle cx="127" cy="1119.1" r="6.1"/><circle cx="151.7" cy="1100.6" r="6.1"/><circle cx="122" cy="1130.4" r="6.1"/><circle cx="84.8" cy="1149.2" r="6.1"/><circle cx="147.9" cy="1098.1" r="6.1"/><circle cx="145.1" cy="1099.2" r="6.1"/><circle cx="177.1" cy="1085.1" r="6.1"/><circle cx="132" cy="1114.6" r="6.1"/><circle cx="130.2" cy="1119.6" r="6.1"/><circle cx="141.7" cy="1103.3" r="6.1"/><circle cx="109.7" cy="1128.3" r="6.1"/><circle cx="187.4" cy="1086.1" r="6.1"/><circle cx="82.6" cy="1149.8" r="6.1"/><circle cx="133.1" cy="1112.2" r="6.1"/><circle cx="149.1" cy="1111" r="6.1"/><circle cx="110.4" cy="1136.2" r="6.1"/><circle cx="160.2" cy="1093.8" r="6.1"/><circle cx="142.7" cy="1111" r="6.1"/><circle cx="129.2" cy="1117" r="6.1"/><circle cx="138.6" cy="1106.8" r="6.1"/><circle cx="104.3" cy="1136" r="6.1"/><circle cx="91.8" cy="1148.7" r="6.1"/><circle cx="163.4" cy="1091.1" r="6.1"/><circle cx="82.9" cy="1148.4" r="6.1"/><circle cx="85.9" cy="1143.9" r="6.1"/><circle cx="88.4" cy="1140.5" r="6.1"/><circle cx="90.9" cy="1138.1" r="6.1"/><circle cx="94.7" cy="1135.3" r="6.1"/><circle cx="98.6" cy="1132.9" r="6.1"/><circle cx="103.8" cy="1125.2" r="6.1"/><circle cx="104.7" cy="1120.4" r="6.1"/><circle cx="106" cy="1118.6" r="6.1"/><circle cx="116" cy="1113.9" r="6.1"/><circle cx="126.9" cy="1113.6" r="6.1"/><circle cx="130.3" cy="1111.2" r="6.1"/><circle cx="134.4" cy="1107.9" r="6.1"/><circle cx="138.3" cy="1104.5" r="6.1"/><circle cx="144.2" cy="1094.8" r="6.1"/><circle cx="147.8" cy="1093.2" r="6.1"/><circle cx="150.4" cy="1092.6" r="6.1"/><circle cx="159.5" cy="1086.3" r="6.1"/><circle cx="167.4" cy="1088.7" r="6.1"/><circle cx="177.8" cy="1081.7" r="6.1"/><circle cx="178.8" cy="1077.4" r="6.1"/><circle cx="178.9" cy="1077.6" r="6.1"/><circle cx="181.1" cy="1077" r="6.1"/><circle cx="188.7" cy="1075.4" r="6.1"/><circle cx="192.6" cy="1073.5" r="6.1"/><circle cx="194.8" cy="1072.3" r="6.1"/><circle cx="192.8" cy="1074.9" r="6.1"/><circle cx="188.2" cy="1084.2" r="6.1"/><circle cx="187" cy="1089.5" r="6.1"/><circle cx="186" cy="1090.2" r="6.1"/><circle cx="181.8" cy="1090.7" r="6.1"/><circle cx="170.9" cy="1093.4" r="6.1"/><circle cx="166.1" cy="1097.3" r="6.1"/><circle cx="162.7" cy="1099.4" r="6.1"/><circle cx="157.9" cy="1101.3" r="6.1"/><circle cx="150.6" cy="1109" r="6.1"/><circle cx="148.1" cy="1115.4" r="6.1"/><circle cx="142.1" cy="1119" r="6.1"/><circle cx="135.1" cy="1120.6" r="6.1"/><circle cx="126.3" cy="1128.4" r="6.1"/><circle cx="124.2" cy="1131.4" r="6.1"/><circle cx="123.1" cy="1132.1" r="6.1"/><circle cx="115.1" cy="1136.6" r="6.1"/><circle cx="110.2" cy="1137.5" r="6.1"/><circle cx="103.4" cy="1140.2" r="6.1"/><circle cx="97.4" cy="1145.1" r="6.1"/><circle cx="92.3" cy="1149.4" r="6.1"/><circle cx="90.8" cy="1150.6" r="6.1"/><circle cx="86.5" cy="1150.6" r="6.1"/><circle cx="82.2" cy="1150.6" r="6.1"/><circle cx="81.9" cy="1150.1" r="6.1"/><circle cx="757.3" cy="821.9" r="6.1"/><circle cx="489.2" cy="827.8" r="6.1"/><circle cx="400.7" cy="876.4" r="6.1"/><circle cx="563.9" cy="940.1" r="6.1"/><circle cx="334.5" cy="947.1" r="6.1"/><circle cx="251.5" cy="994.3" r="6.1"/><circle cx="299.6" cy="995.4" r="6.1"/><circle cx="291.1" cy="1054.5" r="6.1"/><circle cx="206.8" cy="1041.5" r="6.1"/><circle cx="236.3" cy="1058.5" r="6.1"/><circle cx="216.2" cy="1058.5" r="6.1"/><circle cx="198.5" cy="1056.7" r="6.1"/><circle cx="199.7" cy="1060.3" r="6.1"/><circle cx="208.3" cy="1064" r="6.1"/><circle cx="194.9" cy="1072.5" r="6.1"/><circle cx="167.2" cy="1050" r="6.1"/><circle cx="181.1" cy="1069" r="6.1"/><circle cx="163.5" cy="1074.8" r="6.1"/><circle cx="195.7" cy="1071.9" r="6.1"/><circle cx="186.9" cy="1090.4" r="6.1"/><circle cx="177.2" cy="1075.8" r="6.1"/><circle cx="168.4" cy="1113.3" r="6.1"/><circle cx="156.7" cy="1111.9" r="6.1"/><circle cx="115.8" cy="1112.8" r="6.1"/><circle cx="104.6" cy="1117.7" r="6.1"/><circle cx="151.9" cy="1090.4" r="6.1"/><circle cx="125.5" cy="1133.3" r="6.1"/><circle cx="115.8" cy="1138.2" r="6.1"/><circle cx="87.5" cy="1136.2" r="6.1"/><circle cx="81.9" cy="1148.3" r="6.1"/><circle cx="209.3" cy="1063.1" r="6.1"/><circle cx="215" cy="1068.7" r="6.1"/></g>
<use href="#s" x="125.7" y="1122.5"/><use href="#s" x="104.5" y="1132.8"/><use href="#s" x="140.5" y="1110.7"/><use href="#s" x="106.7" y="1137.4"/><use href="#s" x="161.2" y="1097.6"/><use href="#s" x="108.7" y="1135.1"/><use href="#s" x="164.3" y="1094.9"/><use href="#s" x="108.1" y="1134.7"/><use href="#s" x="135.2" y="1112.9"/><use href="#s" x="155.5" y="1096.1"/><use href="#s" x="117.2" y="1124.2"/><use href="#s" x="92.8" y="1138.9"/><use href="#s" x="144.5" y="1100"/><use href="#s" x="101" y="1135.2"/><use href="#s" x="100.4" y="1135.6"/><use href="#s" x="130.2" y="1121.9"/><use href="#s" x="155.9" y="1100.6"/><use href="#s" x="142.7" y="1105.8"/><use href="#s" x="127.8" y="1121.8"/><use href="#s" x="163.1" y="1092.9"/><use href="#s" x="139.1" y="1109.2"/><use href="#s" x="145.2" y="1101.6"/><use href="#s" x="112.9" y="1128.6"/><use href="#s" x="137.4" y="1111.7"/><use href="#s" x="146.4" y="1105.4"/><use href="#s" x="148.5" y="1110.1"/><use href="#s" x="157.8" y="1096.3"/><use href="#s" x="128.7" y="1114.8"/><use href="#s" x="136.7" y="1115.6"/><use href="#s" x="131.4" y="1118.5"/><use href="#s" x="141.2" y="1109.2"/><use href="#s" x="161.6" y="1093.8"/><use href="#s" x="89.3" y="1149.7"/><use href="#s" x="91.3" y="1144.5"/><use href="#s" x="94.2" y="1142.3"/><use href="#s" x="95.9" y="1143.5"/><use href="#s" x="95.6" y="1139"/><use href="#s" x="103.6" y="1139"/><use href="#s" x="151.6" y="1101.3"/><use href="#s" x="120.9" y="1124.3"/><use href="#s" x="135.7" y="1111.3"/><use href="#s" x="95.7" y="1135.7"/><use href="#s" x="118.6" y="1123.4"/><use href="#s" x="144.6" y="1109.1"/><use href="#s" x="128.8" y="1119.1"/><use href="#s" x="151" y="1103.9"/><use href="#s" x="109.6" y="1130"/><use href="#s" x="143.4" y="1114"/><use href="#s" x="148.5" y="1112.7"/><use href="#s" x="97.8" y="1138.2"/><use href="#s" x="145.1" y="1112.4"/><use href="#s" x="161.3" y="1095.9"/><use href="#s" x="108.7" y="1128.4"/><use href="#s" x="144.7" y="1101.8"/><use href="#s" x="142" y="1114.9"/><use href="#s" x="151.5" y="1098.7"/><use href="#s" x="104.2" y="1131.1"/><use href="#s" x="116.4" y="1124.8"/><use href="#s" x="97" y="1142.5"/><use href="#s" x="131.5" y="1114.5"/><use href="#s" x="154.6" y="1099.4"/><use href="#s" x="95.7" y="1146.8"/><use href="#s" x="149.5" y="1108.5"/><use href="#s" x="148.3" y="1101.6"/><use href="#s" x="103" y="1135.5"/><use href="#s" x="104.3" y="1130.7"/><use href="#s" x="147.1" y="1107.2"/><use href="#s" x="143.6" y="1107.5"/><use href="#s" x="97.5" y="1144.5"/><use href="#s" x="144" y="1106.4"/><use href="#s" x="106.7" y="1126.6"/><use href="#s" x="148.2" y="1103.8"/><use href="#s" x="122.9" y="1120.5"/><use href="#s" x="90.1" y="1143.9"/><use href="#s" x="97.1" y="1134.3"/><use href="#s" x="120.5" y="1127.1"/><use href="#s" x="102.7" y="1140.3"/><use href="#s" x="129.9" y="1113.8"/><use href="#s" x="140" y="1112.7"/><use href="#s" x="149.5" y="1110.4"/><use href="#s" x="135.6" y="1116.9"/><use href="#s" x="154.3" y="1097.5"/><use href="#s" x="142.9" y="1100.3"/><use href="#s" x="112.9" y="1131.7"/><use href="#s" x="150.1" y="1100"/><use href="#s" x="109.2" y="1125.6"/><use href="#s" x="93.4" y="1147.3"/><use href="#s" x="143.5" y="1114.5"/><use href="#s" x="114.7" y="1124.7"/><use href="#s" x="110.8" y="1127.5"/><use href="#s" x="110.3" y="1134.7"/><use href="#s" x="124.4" y="1119.1"/><use href="#s" x="115.5" y="1129.4"/><use href="#s" x="108.8" y="1128.9"/><use href="#s" x="89.7" y="1145.8"/><use href="#s" x="87.9" y="1148"/><use href="#s" x="89.5" y="1144.7"/><use href="#s" x="91.1" y="1141.5"/><use href="#s" x="92.5" y="1139.1"/><use href="#s" x="94.5" y="1136.1"/><use href="#s" x="98.4" y="1133.6"/><use href="#s" x="105.4" y="1128.5"/><use href="#s" x="107" y="1125.3"/><use href="#s" x="110" y="1123.7"/><use href="#s" x="115.3" y="1123"/><use href="#s" x="118.7" y="1122"/><use href="#s" x="124.5" y="1118"/><use href="#s" x="126.4" y="1115.5"/><use href="#s" x="128.4" y="1112.9"/><use href="#s" x="130.1" y="1111.3"/><use href="#s" x="138.7" y="1106.7"/><use href="#s" x="140.7" y="1102.8"/><use href="#s" x="142.5" y="1096.4"/><use href="#s" x="153.5" y="1097"/><use href="#s" x="157.5" y="1095"/><use href="#s" x="164.7" y="1090.3"/><use href="#s" x="166.9" y="1092.4"/><use href="#s" x="166.1" y="1094.6"/><use href="#s" x="157.6" y="1100.3"/><use href="#s" x="155.2" y="1102.3"/><use href="#s" x="151.4" y="1107.2"/><use href="#s" x="149.4" y="1111.1"/><use href="#s" x="147.5" y="1116.2"/><use href="#s" x="146.7" y="1118.2"/><use href="#s" x="138.7" y="1117.2"/><use href="#s" x="133.2" y="1119.8"/><use href="#s" x="130.8" y="1121.8"/><use href="#s" x="128.7" y="1122.8"/><use href="#s" x="123.7" y="1125.4"/><use href="#s" x="120.8" y="1127.3"/><use href="#s" x="116.4" y="1131"/><use href="#s" x="113.2" y="1133.5"/><use href="#s" x="108.9" y="1136.4"/><use href="#s" x="106.4" y="1138.3"/><use href="#s" x="103.5" y="1140.3"/><use href="#s" x="98.6" y="1143.9"/><use href="#s" x="96.2" y="1146.3"/><use href="#s" x="94" y="1148.3"/><use href="#s" x="90.8" y="1150.7"/><use href="#s" x="91.3" y="1150.7"/><use href="#s" x="88.1" y="1150.7"/><use href="#s" x="87.4" y="1149.4"/><use href="#s" x="354.4" y="981.4"/><use href="#s" x="239.6" y="1002.8"/><use href="#s" x="274.9" y="1023.8"/><use href="#s" x="293.9" y="1024.8"/><use href="#s" x="268" y="1034.5"/><use href="#s" x="236.3" y="1039.4"/><use href="#s" x="229.6" y="1056.1"/><use href="#s" x="205.2" y="1053"/><use href="#s" x="208.3" y="1073.7"/><use href="#s" x="191.2" y="1073.7"/><use href="#s" x="207.9" y="1072.9"/><use href="#s" x="191.3" y="1073.4"/><use href="#s" x="182.1" y="1081.6"/><use href="#s" x="190.8" y="1082.6"/><use href="#s" x="180.1" y="1088.5"/><use href="#s" x="160.6" y="1084.6"/><use href="#s" x="142.1" y="1096.3"/><use href="#s" x="148" y="1120.6"/>
<rect x="100.95" y="649.15" width="124.20" height="52.70" fill="#bec3ff" stroke="#000" stroke-width="3.3"/>
<circle cx="126.20" cy="663.10" r="6.1" fill="url(#g)"/>
<use href="#s" x="126.20" y="688.30"/>
<text class="lg" x="154.60" y="669.70">Training</text>
<text class="lg" x="154.60" y="694.50">Testing</text>
</g>
<g>
<rect x="914.40" y="624.80" width="710.10" height="527.30" fill="none" stroke="#000" stroke-width="4.00"/>
<path d="M914.40,1153.60v7.50M912.90,1152.10h-7.50M965.12,1153.60v3.50M912.90,1114.44h-3.50M1015.84,1153.60v7.50M912.90,1076.77h-7.50M1066.56,1153.60v3.50M912.90,1039.11h-3.50M1117.29,1153.60v7.50M912.90,1001.44h-7.50M1168.01,1153.60v3.50M912.90,963.78h-3.50M1218.73,1153.60v7.50M912.90,926.11h-7.50M1269.45,1153.60v3.50M912.90,888.45h-3.50M1320.17,1153.60v7.50M912.90,850.79h-7.50M1370.89,1153.60v3.50M912.90,813.12h-3.50M1421.61,1153.60v7.50M912.90,775.46h-7.50M1472.34,1153.60v3.50M912.90,737.79h-3.50M1523.06,1153.60v7.50M912.90,700.13h-7.50M1573.78,1153.60v3.50M912.90,662.46h-3.50M1624.50,1153.60v7.50M912.90,624.80h-7.50" stroke="#000" stroke-width="4.00" fill="none"/>
<text class="tk" x="915.20" y="1183.30" text-anchor="middle">0</text>
<text class="tk" x="898.80" y="1158.00" text-anchor="end">0</text>
<text class="tk" x="1016.64" y="1183.30" text-anchor="middle">20</text>
<text class="tk" x="898.80" y="1082.67" text-anchor="end">20</text>
<text class="tk" x="1118.09" y="1183.30" text-anchor="middle">40</text>
<text class="tk" x="898.80" y="1007.34" text-anchor="end">40</text>
<text class="tk" x="1219.53" y="1183.30" text-anchor="middle">60</text>
<text class="tk" x="898.80" y="932.01" text-anchor="end">60</text>
<text class="tk" x="1320.97" y="1183.30" text-anchor="middle">80</text>
<text class="tk" x="898.80" y="856.69" text-anchor="end">80</text>
<text class="tk" x="1422.41" y="1183.30" text-anchor="middle">100</text>
<text class="tk" x="898.80" y="781.36" text-anchor="end">100</text>
<text class="tk" x="1523.86" y="1183.30" text-anchor="middle">120</text>
<text class="tk" x="898.80" y="706.03" text-anchor="end">120</text>
<text class="tk" x="1625.30" y="1183.30" text-anchor="middle">140</text>
<text class="tk" x="898.80" y="630.70" text-anchor="end">140</text>
<text class="tt" x="1113.80" y="1222.40" textLength="311.20" lengthAdjust="spacing">Experimental Dnssm (x10<tspan dy="-8" style="font-size:15.5px;font-weight:bold;stroke:#000;stroke-width:0.55px">-12</tspan><tspan dy="8">m</tspan><tspan dy="-8" style="font-size:15.5px;font-weight:bold;stroke:#000;stroke-width:0.55px">2</tspan><tspan dy="8">/s)</tspan></text>
<text class="tt" transform="translate(859.00,1069.60) rotate(-90)" x="0" y="0" textLength="362.00" lengthAdjust="spacing">SVR-FFA prdicted Dnssm (x10<tspan dy="-8" style="font-size:15.5px;font-weight:bold;stroke:#000;stroke-width:0.55px">-12</tspan><tspan dy="8">m</tspan><tspan dy="-8" style="font-size:15.5px;font-weight:bold;stroke:#000;stroke-width:0.55px">2</tspan><tspan dy="8">/s)</tspan></text>
<g fill="url(#g)"><circle cx="982.6" cy="1104.2" r="6.1"/><circle cx="927.4" cy="1135.7" r="6.1"/><circle cx="1017" cy="1097.2" r="6.1"/><circle cx="984.7" cy="1093.8" r="6.1"/><circle cx="945.2" cy="1121.7" r="6.1"/><circle cx="974.3" cy="1112.6" r="6.1"/><circle cx="1019.4" cy="1095.9" r="6.1"/><circle cx="946" cy="1119.6" r="6.1"/><circle cx="935" cy="1139.5" r="6.1"/><circle cx="1002.4" cy="1112" r="6.1"/><circle cx="1017.2" cy="1101.4" r="6.1"/><circle cx="936.4" cy="1132.9" r="6.1"/><circle cx="985" cy="1092.6" r="6.1"/><circle cx="999.2" cy="1094.7" r="6.1"/><circle cx="1007.9" cy="1107" r="6.1"/><circle cx="938.8" cy="1132.5" r="6.1"/><circle cx="1013.1" cy="1085.6" r="6.1"/><circle cx="981" cy="1114.6" r="6.1"/><circle cx="1014.4" cy="1081.3" r="6.1"/><circle cx="996.9" cy="1100.6" r="6.1"/><circle cx="990.8" cy="1104.8" r="6.1"/><circle cx="963.8" cy="1108.8" r="6.1"/><circle cx="978.5" cy="1113.7" r="6.1"/><circle cx="948.4" cy="1130.4" r="6.1"/><circle cx="1006" cy="1101.6" r="6.1"/><circle cx="978.8" cy="1109.2" r="6.1"/><circle cx="979" cy="1105.6" r="6.1"/><circle cx="942.5" cy="1132.4" r="6.1"/><circle cx="958.8" cy="1110.2" r="6.1"/><circle cx="1020.4" cy="1107.1" r="6.1"/><circle cx="956.7" cy="1114.7" r="6.1"/><circle cx="929.5" cy="1135.6" r="6.1"/><circle cx="951.2" cy="1118.6" r="6.1"/><circle cx="957.3" cy="1135.4" r="6.1"/><circle cx="1000" cy="1102" r="6.1"/><circle cx="936.7" cy="1132.1" r="6.1"/><circle cx="1002.1" cy="1109.1" r="6.1"/><circle cx="955.6" cy="1103.4" r="6.1"/><circle cx="961" cy="1123.8" r="6.1"/><circle cx="964.4" cy="1113.1" r="6.1"/><circle cx="1018.3" cy="1089.7" r="6.1"/><circle cx="938.5" cy="1128.1" r="6.1"/><circle cx="971.2" cy="1115.9" r="6.1"/><circle cx="955.9" cy="1124.2" r="6.1"/><circle cx="945.4" cy="1105.4" r="6.1"/><circle cx="942.7" cy="1136.7" r="6.1"/><circle cx="1015.9" cy="1097.5" r="6.1"/><circle cx="939.9" cy="1121.1" r="6.1"/><circle cx="931.4" cy="1129.4" r="6.1"/><circle cx="987" cy="1109.1" r="6.1"/><circle cx="1021.2" cy="1103.6" r="6.1"/><circle cx="984.2" cy="1111.3" r="6.1"/><circle cx="1001.8" cy="1091.6" r="6.1"/><circle cx="950.4" cy="1121.8" r="6.1"/><circle cx="1008.3" cy="1101.5" r="6.1"/><circle cx="957" cy="1117.5" r="6.1"/><circle cx="941.5" cy="1117.3" r="6.1"/><circle cx="955" cy="1113.1" r="6.1"/><circle cx="998.9" cy="1097.4" r="6.1"/><circle cx="918.4" cy="1143.2" r="6.1"/><circle cx="950" cy="1109.2" r="6.1"/><circle cx="993.5" cy="1101.5" r="6.1"/><circle cx="997.8" cy="1113.1" r="6.1"/><circle cx="1005.1" cy="1101.4" r="6.1"/><circle cx="988" cy="1092.6" r="6.1"/><circle cx="928.2" cy="1141.3" r="6.1"/><circle cx="1004.8" cy="1100.4" r="6.1"/><circle cx="997.1" cy="1085.4" r="6.1"/><circle cx="966" cy="1111.6" r="6.1"/><circle cx="952.9" cy="1127.9" r="6.1"/><circle cx="945.1" cy="1125.9" r="6.1"/><circle cx="991" cy="1108.3" r="6.1"/><circle cx="943.7" cy="1124.2" r="6.1"/><circle cx="986.7" cy="1104.1" r="6.1"/><circle cx="995.8" cy="1110.6" r="6.1"/><circle cx="1007.4" cy="1093.6" r="6.1"/><circle cx="989.8" cy="1109.4" r="6.1"/><circle cx="1004.6" cy="1088.6" r="6.1"/><circle cx="1011" cy="1102.9" r="6.1"/><circle cx="992.7" cy="1094.9" r="6.1"/><circle cx="1005.9" cy="1088" r="6.1"/><circle cx="929.5" cy="1136.8" r="6.1"/><circle cx="995.3" cy="1106.7" r="6.1"/><circle cx="1009" cy="1092.5" r="6.1"/><circle cx="972.9" cy="1113.9" r="6.1"/><circle cx="952.9" cy="1130.4" r="6.1"/><circle cx="963.3" cy="1115" r="6.1"/><circle cx="969.5" cy="1104.8" r="6.1"/><circle cx="943.9" cy="1100.6" r="6.1"/><circle cx="970" cy="1109.2" r="6.1"/><circle cx="947.7" cy="1111.6" r="6.1"/><circle cx="945.9" cy="1106.9" r="6.1"/><circle cx="938.8" cy="1140.4" r="6.1"/><circle cx="995.4" cy="1102.3" r="6.1"/><circle cx="998.2" cy="1093" r="6.1"/><circle cx="951.6" cy="1116.3" r="6.1"/><circle cx="971" cy="1109.4" r="6.1"/><circle cx="1004" cy="1105.2" r="6.1"/><circle cx="984.9" cy="1108.9" r="6.1"/><circle cx="978.4" cy="1101.3" r="6.1"/><circle cx="1002.4" cy="1095.4" r="6.1"/><circle cx="977.7" cy="1099" r="6.1"/><circle cx="939.5" cy="1140.1" r="6.1"/><circle cx="993.7" cy="1091.5" r="6.1"/><circle cx="962.4" cy="1114.8" r="6.1"/><circle cx="1007.1" cy="1089.5" r="6.1"/><circle cx="931.1" cy="1132.7" r="6.1"/><circle cx="956.3" cy="1125.9" r="6.1"/><circle cx="1012.7" cy="1093.3" r="6.1"/><circle cx="949.4" cy="1100.8" r="6.1"/><circle cx="949.5" cy="1103.7" r="6.1"/><circle cx="1012.2" cy="1085.7" r="6.1"/><circle cx="1015.1" cy="1090.8" r="6.1"/><circle cx="936.3" cy="1128.4" r="6.1"/><circle cx="955.2" cy="1131.9" r="6.1"/><circle cx="962.3" cy="1117.1" r="6.1"/><circle cx="1018.5" cy="1096.6" r="6.1"/><circle cx="989" cy="1099.6" r="6.1"/><circle cx="947.5" cy="1115.4" r="6.1"/><circle cx="971.9" cy="1104.9" r="6.1"/><circle cx="924.5" cy="1140.3" r="6.1"/><circle cx="985" cy="1101.2" r="6.1"/><circle cx="955.7" cy="1118.3" r="6.1"/><circle cx="1017.3" cy="1092.3" r="6.1"/><circle cx="988.7" cy="1094.7" r="6.1"/><circle cx="944.8" cy="1134.1" r="6.1"/><circle cx="932.9" cy="1142.3" r="6.1"/><circle cx="923.6" cy="1138.9" r="6.1"/><circle cx="1013.3" cy="1106.7" r="6.1"/><circle cx="957.4" cy="1108.7" r="6.1"/><circle cx="949.3" cy="1127.6" r="6.1"/><circle cx="942.4" cy="1115.1" r="6.1"/><circle cx="1010.2" cy="1087.4" r="6.1"/><circle cx="915.5" cy="1144.5" r="6.1"/><circle cx="919.8" cy="1139.3" r="6.1"/><circle cx="924.7" cy="1133.4" r="6.1"/><circle cx="928.2" cy="1129.4" r="6.1"/><circle cx="931.1" cy="1126.5" r="6.1"/><circle cx="932.9" cy="1125.2" r="6.1"/><circle cx="938.9" cy="1117.8" r="6.1"/><circle cx="939.7" cy="1116.7" r="6.1"/><circle cx="940" cy="1102.9" r="6.1"/><circle cx="938.7" cy="1100.9" r="6.1"/><circle cx="938.9" cy="1100.2" r="6.1"/><circle cx="940.4" cy="1099.6" r="6.1"/><circle cx="947.3" cy="1098.9" r="6.1"/><circle cx="951.2" cy="1097.9" r="6.1"/><circle cx="952" cy="1098.8" r="6.1"/><circle cx="954" cy="1100.1" r="6.1"/><circle cx="965.1" cy="1104.9" r="6.1"/><circle cx="974.5" cy="1100.7" r="6.1"/><circle cx="978.9" cy="1096.7" r="6.1"/><circle cx="984.9" cy="1089.4" r="6.1"/><circle cx="984.5" cy="1089.2" r="6.1"/><circle cx="987" cy="1089.2" r="6.1"/><circle cx="997.3" cy="1084.4" r="6.1"/><circle cx="1010.2" cy="1079.6" r="6.1"/><circle cx="1011.1" cy="1078.8" r="6.1"/><circle cx="1012.5" cy="1078.4" r="6.1"/><circle cx="1016.4" cy="1079.4" r="6.1"/><circle cx="1018" cy="1080.2" r="6.1"/><circle cx="1021.4" cy="1082.6" r="6.1"/><circle cx="1021.8" cy="1083.9" r="6.1"/><circle cx="1021.6" cy="1086.7" r="6.1"/><circle cx="1021.9" cy="1098.1" r="6.1"/><circle cx="1022.5" cy="1101.3" r="6.1"/><circle cx="1022.2" cy="1104.4" r="6.1"/><circle cx="1020.2" cy="1108.3" r="6.1"/><circle cx="1020.6" cy="1108" r="6.1"/><circle cx="1016.7" cy="1109.4" r="6.1"/><circle cx="1014.4" cy="1109.4" r="6.1"/><circle cx="1003.4" cy="1113.5" r="6.1"/><circle cx="1001.4" cy="1115" r="6.1"/><circle cx="1000" cy="1114.5" r="6.1"/><circle cx="989.6" cy="1112.3" r="6.1"/><circle cx="981.3" cy="1115.5" r="6.1"/><circle cx="980.7" cy="1116.1" r="6.1"/><circle cx="971.3" cy="1116.3" r="6.1"/><circle cx="965.4" cy="1121.3" r="6.1"/><circle cx="957.9" cy="1132.9" r="6.1"/><circle cx="956.8" cy="1136.5" r="6.1"/><circle cx="957.3" cy="1136.2" r="6.1"/><circle cx="948.3" cy="1134.9" r="6.1"/><circle cx="942.9" cy="1138.4" r="6.1"/><circle cx="930.8" cy="1144.7" r="6.1"/><circle cx="930.3" cy="1145.1" r="6.1"/><circle cx="925.9" cy="1145.6" r="6.1"/><circle cx="921" cy="1145.8" r="6.1"/><circle cx="917.7" cy="1145.5" r="6.1"/><circle cx="915.3" cy="1145.1" r="6.1"/><circle cx="1591.8" cy="841.1" r="6.1"/><circle cx="1323" cy="845.4" r="6.1"/><circle cx="1234.6" cy="872.4" r="6.1"/><circle cx="1398" cy="966" r="6.1"/><circle cx="1133.5" cy="966.3" r="6.1"/><circle cx="1168" cy="971" r="6.1"/><circle cx="1085" cy="999.8" r="6.1"/><circle cx="1124.8" cy="1079.2" r="6.1"/><circle cx="1040.1" cy="1038.6" r="6.1"/><circle cx="1041.9" cy="1048.1" r="6.1"/><circle cx="1032.8" cy="1052.4" r="6.1"/><circle cx="1049.8" cy="1066.4" r="6.1"/><circle cx="1069.7" cy="1068.5" r="6.1"/><circle cx="1029.7" cy="1069.5" r="6.1"/><circle cx="1048.6" cy="1076.8" r="6.1"/><circle cx="1035.8" cy="1079.8" r="6.1"/><circle cx="1027.3" cy="1075" r="6.1"/><circle cx="999.9" cy="1058.3" r="6.1"/><circle cx="996.5" cy="1062.6" r="6.1"/><circle cx="1013" cy="1062.2" r="6.1"/><circle cx="1015" cy="1070" r="6.1"/><circle cx="1012.1" cy="1075.8" r="6.1"/><circle cx="1036.4" cy="1083.1" r="6.1"/><circle cx="1023.8" cy="1099.2" r="6.1"/><circle cx="1019.4" cy="1107" r="6.1"/><circle cx="1009.1" cy="1106" r="6.1"/><circle cx="1001.3" cy="1114.8" r="6.1"/><circle cx="938" cy="1099.2" r="6.1"/><circle cx="937.5" cy="1103.6" r="6.1"/><circle cx="945.8" cy="1098.2" r="6.1"/><circle cx="953.1" cy="1098.2" r="6.1"/><circle cx="950.7" cy="1108" r="6.1"/><circle cx="937" cy="1115.7" r="6.1"/><circle cx="983.8" cy="1088" r="6.1"/><circle cx="972.1" cy="1098.2" r="6.1"/><circle cx="957.5" cy="1136.7" r="6.1"/><circle cx="914.6" cy="1143.5" r="6.1"/></g>
<use href="#s" x="978.2" y="1105.7"/><use href="#s" x="936.3" y="1127.2"/><use href="#s" x="947.7" y="1131.2"/><use href="#s" x="976.3" y="1111"/><use href="#s" x="950.2" y="1123.9"/><use href="#s" x="961.6" y="1123.9"/><use href="#s" x="948" y="1124.3"/><use href="#s" x="941.6" y="1126.2"/><use href="#s" x="996.6" y="1097.1"/><use href="#s" x="937" y="1136.2"/><use href="#s" x="944.5" y="1131.7"/><use href="#s" x="986.1" y="1103"/><use href="#s" x="923.4" y="1144.7"/><use href="#s" x="944.4" y="1120"/><use href="#s" x="940.2" y="1135.8"/><use href="#s" x="981.4" y="1105.6"/><use href="#s" x="939.3" y="1139.6"/><use href="#s" x="960.1" y="1116.6"/><use href="#s" x="943.1" y="1122.7"/><use href="#s" x="978.3" y="1115.4"/><use href="#s" x="986.7" y="1107.2"/><use href="#s" x="933.6" y="1130.4"/><use href="#s" x="942.2" y="1133.2"/><use href="#s" x="951.2" y="1118.9"/><use href="#s" x="972.9" y="1114.4"/><use href="#s" x="964" y="1118.6"/><use href="#s" x="981.8" y="1113.5"/><use href="#s" x="981.5" y="1110.9"/><use href="#s" x="925.5" y="1142.3"/><use href="#s" x="948.4" y="1127.6"/><use href="#s" x="979.8" y="1112.4"/><use href="#s" x="931.7" y="1130.8"/><use href="#s" x="925.9" y="1146.5"/><use href="#s" x="970.9" y="1115.1"/><use href="#s" x="967.4" y="1119"/><use href="#s" x="941.3" y="1125.3"/><use href="#s" x="956.7" y="1117.8"/><use href="#s" x="978" y="1109.7"/><use href="#s" x="930.5" y="1136.8"/><use href="#s" x="929.3" y="1144.8"/><use href="#s" x="930.3" y="1145.7"/><use href="#s" x="947.8" y="1119.7"/><use href="#s" x="922.6" y="1140.4"/><use href="#s" x="921.8" y="1145"/><use href="#s" x="960.8" y="1113.6"/><use href="#s" x="981.5" y="1101"/><use href="#s" x="960.7" y="1118.8"/><use href="#s" x="943.6" y="1130.3"/><use href="#s" x="999.5" y="1094.1"/><use href="#s" x="989.7" y="1099.3"/><use href="#s" x="980.5" y="1106.4"/><use href="#s" x="923.4" y="1147.5"/><use href="#s" x="937.2" y="1126.6"/><use href="#s" x="923.4" y="1144.2"/><use href="#s" x="967.5" y="1113.6"/><use href="#s" x="961" y="1115.7"/><use href="#s" x="946.9" y="1124.8"/><use href="#s" x="928.8" y="1130.6"/><use href="#s" x="955.8" y="1119.3"/><use href="#s" x="995.7" y="1091.9"/><use href="#s" x="946.3" y="1121.3"/><use href="#s" x="938.7" y="1129.6"/><use href="#s" x="933.7" y="1135.5"/><use href="#s" x="964.8" y="1111.4"/><use href="#s" x="934.3" y="1140.3"/><use href="#s" x="969.8" y="1109.6"/><use href="#s" x="926.6" y="1147.3"/><use href="#s" x="984.9" y="1104.1"/><use href="#s" x="928.7" y="1143.7"/><use href="#s" x="990.6" y="1101.1"/><use href="#s" x="965.5" y="1118.2"/><use href="#s" x="941.9" y="1128.8"/><use href="#s" x="952.8" y="1121.3"/><use href="#s" x="956.1" y="1121.5"/><use href="#s" x="925.7" y="1140.2"/><use href="#s" x="959.4" y="1114.3"/><use href="#s" x="992.9" y="1096.3"/><use href="#s" x="933.6" y="1132.3"/><use href="#s" x="940.8" y="1123.6"/><use href="#s" x="929.4" y="1138.3"/><use href="#s" x="998.3" y="1093.1"/><use href="#s" x="962.1" y="1112.8"/><use href="#s" x="932.2" y="1129.2"/><use href="#s" x="931.8" y="1139.8"/><use href="#s" x="953.7" y="1116.3"/><use href="#s" x="939.6" y="1139.4"/><use href="#s" x="977.5" y="1108.1"/><use href="#s" x="991.2" y="1101.9"/><use href="#s" x="975.7" y="1105.7"/><use href="#s" x="931.8" y="1137.3"/><use href="#s" x="974.7" y="1114.3"/><use href="#s" x="964.5" y="1113.8"/><use href="#s" x="983.4" y="1107.4"/><use href="#s" x="971.7" y="1110.8"/><use href="#s" x="959.1" y="1121"/><use href="#s" x="973.1" y="1111.3"/><use href="#s" x="945.3" y="1129.2"/><use href="#s" x="951.8" y="1127.3"/><use href="#s" x="959.7" y="1121.5"/><use href="#s" x="965.9" y="1110.8"/><use href="#s" x="968.1" y="1113.7"/><use href="#s" x="937.2" y="1134"/><use href="#s" x="929.5" y="1135.6"/><use href="#s" x="995.1" y="1093.3"/><use href="#s" x="933.1" y="1143.3"/><use href="#s" x="968.2" y="1116.6"/><use href="#s" x="937.9" y="1140.1"/><use href="#s" x="975.3" y="1112.5"/><use href="#s" x="955.3" y="1125.6"/><use href="#s" x="924.2" y="1137.8"/><use href="#s" x="946" y="1127.1"/><use href="#s" x="940" y="1129.2"/><use href="#s" x="997.9" y="1087.9"/><use href="#s" x="936.5" y="1138.1"/><use href="#s" x="999.5" y="1090.5"/><use href="#s" x="951.2" y="1126.1"/><use href="#s" x="934.1" y="1133.5"/><use href="#s" x="938.3" y="1129.1"/><use href="#s" x="988.7" y="1103.5"/><use href="#s" x="925.2" y="1138.3"/><use href="#s" x="932.9" y="1144.9"/><use href="#s" x="929.3" y="1133.7"/><use href="#s" x="945.2" y="1119.8"/><use href="#s" x="982.6" y="1102.6"/><use href="#s" x="924.8" y="1136.3"/><use href="#s" x="929.6" y="1139.8"/><use href="#s" x="976.6" y="1110"/><use href="#s" x="945.6" y="1118"/><use href="#s" x="953.7" y="1118.7"/><use href="#s" x="961.8" y="1116.4"/><use href="#s" x="920.4" y="1145.5"/><use href="#s" x="921.6" y="1142.3"/><use href="#s" x="922.8" y="1139.2"/><use href="#s" x="924" y="1136"/><use href="#s" x="925.1" y="1133.4"/><use href="#s" x="926.6" y="1130.5"/><use href="#s" x="928.2" y="1128.5"/><use href="#s" x="929.2" y="1128.2"/><use href="#s" x="936.8" y="1126"/><use href="#s" x="939.2" y="1124.1"/><use href="#s" x="942.7" y="1119.1"/><use href="#s" x="943.7" y="1116.2"/><use href="#s" x="943.6" y="1116.3"/><use href="#s" x="944.1" y="1116.3"/><use href="#s" x="953.2" y="1116.6"/><use href="#s" x="956.2" y="1114.6"/><use href="#s" x="959.9" y="1111.5"/><use href="#s" x="963.1" y="1109.9"/><use href="#s" x="970.8" y="1108.8"/><use href="#s" x="973.7" y="1106.8"/><use href="#s" x="977.8" y="1101.5"/><use href="#s" x="978.8" y="1098.6"/><use href="#s" x="987.3" y="1099.5"/><use href="#s" x="993.5" y="1093.4"/><use href="#s" x="994.4" y="1090.2"/><use href="#s" x="995.4" y="1086.9"/><use href="#s" x="996.8" y="1084.1"/><use href="#s" x="997.2" y="1083.5"/><use href="#s" x="998" y="1084.7"/><use href="#s" x="999.5" y="1088.1"/><use href="#s" x="1000.5" y="1090.8"/><use href="#s" x="1001.5" y="1093.7"/><use href="#s" x="1001.1" y="1093.9"/><use href="#s" x="1001" y="1094.5"/><use href="#s" x="998.4" y="1096.1"/><use href="#s" x="995.8" y="1097.7"/><use href="#s" x="991.9" y="1101.6"/><use href="#s" x="989.9" y="1104.5"/><use href="#s" x="987.7" y="1107.1"/><use href="#s" x="983.9" y="1111.9"/><use href="#s" x="981.9" y="1115.3"/><use href="#s" x="980.5" y="1116.5"/><use href="#s" x="980.5" y="1116.6"/><use href="#s" x="971.6" y="1116.8"/><use href="#s" x="966.8" y="1120.5"/><use href="#s" x="964.9" y="1122.9"/><use href="#s" x="961.4" y="1125"/><use href="#s" x="954" y="1126.9"/><use href="#s" x="951" y="1128.8"/><use href="#s" x="946.8" y="1132.5"/><use href="#s" x="942.9" y="1136.9"/><use href="#s" x="940.1" y="1141.9"/><use href="#s" x="938" y="1143.3"/><use href="#s" x="931.8" y="1146.1"/><use href="#s" x="930.2" y="1147"/><use href="#s" x="927.3" y="1147.8"/><use href="#s" x="924.4" y="1148.7"/><use href="#s" x="922.7" y="1148.9"/><use href="#s" x="921.3" y="1148.1"/><use href="#s" x="920.3" y="1145"/><use href="#s" x="1188.1" y="974.5"/><use href="#s" x="1073" y="990.9"/><use href="#s" x="1108.3" y="1029.9"/><use href="#s" x="1127.4" y="1031.3"/><use href="#s" x="1101.4" y="1039.3"/><use href="#s" x="1069.9" y="1037.6"/><use href="#s" x="1038.6" y="1042.1"/><use href="#s" x="1063.2" y="1064"/><use href="#s" x="1041.7" y="1075"/><use href="#s" x="1024.9" y="1075.6"/><use href="#s" x="1025.2" y="1074.3"/><use href="#s" x="1022.8" y="1084.6"/><use href="#s" x="1015" y="1076.8"/><use href="#s" x="971.1" y="1083.1"/><use href="#s" x="977" y="1080.7"/><use href="#s" x="996.5" y="1080.7"/><use href="#s" x="1012" y="1094.3"/>
<rect x="938.85" y="650.85" width="124.30" height="52.30" fill="#bec3ff" stroke="#000" stroke-width="3.3"/>
<circle cx="964.10" cy="664.80" r="6.1" fill="url(#g)"/>
<use href="#s" x="964.10" y="690.00"/>
<text class="lg" x="992.20" y="671.40">Training</text>
<text class="lg" x="992.20" y="696.20">Testing</text>
</g>
</svg></body></html>
